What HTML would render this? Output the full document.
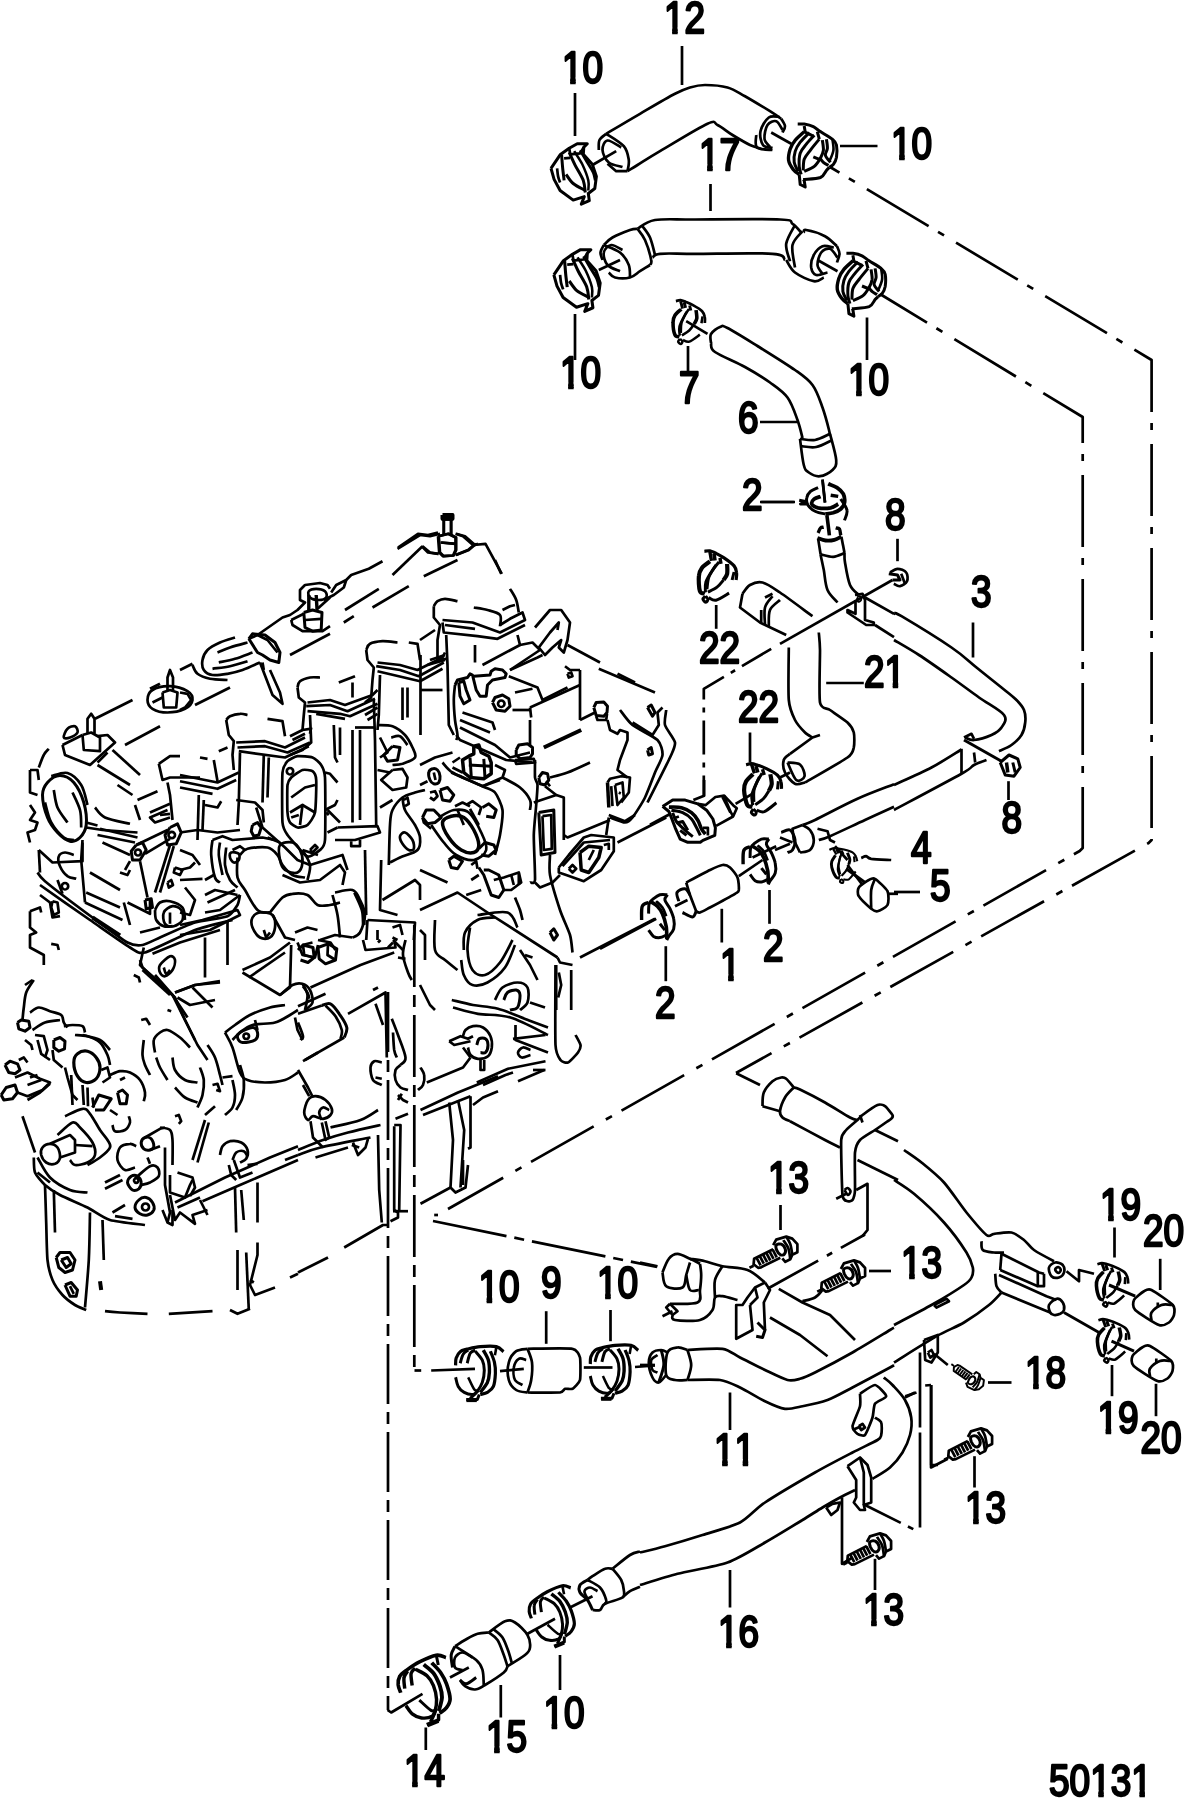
<!DOCTYPE html>
<html><head><meta charset="utf-8"><title>50131</title>
<style>
html,body{margin:0;padding:0;background:#fff}
body{width:1192px;height:1801px;overflow:hidden}
svg{display:block;filter:grayscale(1)}
svg text{font-family:"Liberation Sans",sans-serif;fill:#000;stroke:#000;stroke-width:2.4;stroke-linejoin:round;stroke-linecap:butt;font-kerning:none;font-feature-settings:"kern" 0,"liga" 0}
</style></head><body>
<svg width="1192" height="1801" viewBox="0 0 1192 1801">
<rect width="1192" height="1801" fill="#fff" stroke="none"/>
<defs><clipPath id="k12"><path d="M-5 -44.4 H54.4 V8 H-5 Z M0.9 -5.6 H9.8 V4 H0.9 Z M16.4 -5.6 H25 V4 H16.4 Z" clip-rule="evenodd"/></clipPath><clipPath id="k10"><path d="M-5 -44.4 H54.4 V8 H-5 Z M0.9 -5.6 H9.8 V4 H0.9 Z M16.4 -5.6 H25 V4 H16.4 Z" clip-rule="evenodd"/></clipPath><clipPath id="k17"><path d="M-5 -44.4 H54.4 V8 H-5 Z M0.9 -5.6 H9.8 V4 H0.9 Z M16.4 -5.6 H25 V4 H16.4 Z" clip-rule="evenodd"/></clipPath><clipPath id="k21"><path d="M-5 -44.4 H54.4 V8 H-5 Z M25.6 -5.6 H34.5 V4 H25.6 Z M41 -5.6 H49.7 V4 H41 Z" clip-rule="evenodd"/></clipPath><clipPath id="k1"><path d="M-5 -44.4 H29.7 V8 H-5 Z M0.9 -5.6 H9.8 V4 H0.9 Z M16.4 -5.6 H25 V4 H16.4 Z" clip-rule="evenodd"/></clipPath><clipPath id="k13"><path d="M-5 -44.4 H54.4 V8 H-5 Z M0.9 -5.6 H9.8 V4 H0.9 Z M16.4 -5.6 H25 V4 H16.4 Z" clip-rule="evenodd"/></clipPath><clipPath id="k11"><path d="M-5 -44.4 H54.4 V8 H-5 Z M0.9 -5.6 H9.8 V4 H0.9 Z M16.4 -5.6 H25 V4 H16.4 Z M25.6 -5.6 H34.5 V4 H25.6 Z M41 -5.6 H49.7 V4 H41 Z" clip-rule="evenodd"/></clipPath><clipPath id="k16"><path d="M-5 -44.4 H54.4 V8 H-5 Z M0.9 -5.6 H9.8 V4 H0.9 Z M16.4 -5.6 H25 V4 H16.4 Z" clip-rule="evenodd"/></clipPath><clipPath id="k19"><path d="M-5 -44.4 H54.4 V8 H-5 Z M0.9 -5.6 H9.8 V4 H0.9 Z M16.4 -5.6 H25 V4 H16.4 Z" clip-rule="evenodd"/></clipPath><clipPath id="k18"><path d="M-5 -44.4 H54.4 V8 H-5 Z M0.9 -5.6 H9.8 V4 H0.9 Z M16.4 -5.6 H25 V4 H16.4 Z" clip-rule="evenodd"/></clipPath><clipPath id="k15"><path d="M-5 -44.4 H54.4 V8 H-5 Z M0.9 -5.6 H9.8 V4 H0.9 Z M16.4 -5.6 H25 V4 H16.4 Z" clip-rule="evenodd"/></clipPath><clipPath id="k14"><path d="M-5 -44.4 H54.4 V8 H-5 Z M0.9 -5.6 H9.8 V4 H0.9 Z M16.4 -5.6 H25 V4 H16.4 Z" clip-rule="evenodd"/></clipPath><clipPath id="k50131"><path d="M-5 -44.4 H128.4 V8 H-5 Z M50.2 -5.6 H59.2 V4 H50.2 Z M65.7 -5.6 H74.3 V4 H65.7 Z M99.6 -5.6 H108.6 V4 H99.6 Z M115.1 -5.6 H123.7 V4 H115.1 Z" clip-rule="evenodd"/></clipPath></defs>
<g stroke="#000" stroke-width="2.7" fill="none" stroke-linecap="butt" stroke-linejoin="round">
<text transform="translate(664 33) scale(0.833 1)" font-size="44.4" clip-path="url(#k12)">12</text>
<path d="M682 46 L682 85"/>
<text transform="translate(562 83) scale(0.833 1)" font-size="44.4" clip-path="url(#k10)">10</text>
<path d="M575 93 L575 136"/>
<text transform="translate(699 169.5) scale(0.833 1)" font-size="44.4" clip-path="url(#k17)">17</text>
<path d="M710.5 184 L710.5 211"/>
<text transform="translate(560 388) scale(0.833 1)" font-size="44.4" clip-path="url(#k10)">10</text>
<path d="M575 314 L575 360"/>
<text transform="translate(679 403) scale(0.833 1)" font-size="44.4">7</text>
<path d="M688 346 L688 372"/>
<text transform="translate(738 433) scale(0.833 1)" font-size="44.4">6</text>
<path d="M760 422 L797.5 422"/>
<path d="M606.2 133.8 C611.9 130.4 628.5 120.4 640 113.8 C651.5 107.1 666.7 98.1 675 93.8 C683.3 89.4 685 89 690 87.5 C695 86 698.8 85 705 85 C711.2 85 720.8 85.6 727.5 87.5 C734.2 89.4 737.9 92.3 745 96.2 C752.1 100.2 764 107.5 770 111.2 C776 115 779.4 117.5 781.2 118.8"/>
<path d="M627.5 171.2 C629.2 170.2 632.1 168.3 637.5 165 C642.9 161.7 648.3 158.1 660 151.2 C671.7 144.4 697.9 128.1 707.5 123.8 C717.1 119.4 713.3 123.1 717.5 125 C721.7 126.9 727.1 131.7 732.5 135 C737.9 138.3 745.2 142.7 750 145 C754.8 147.3 759.4 148.1 761.2 148.8"/>
<path d="M606.2 133.8 C605.1 134.8 600.8 137.3 599.5 140 C598.2 142.7 598.9 148.3 598.8 150"/>
<path d="M621.2 147.5 C619 146.3 610.6 140.1 607.5 140.5 C604.4 140.9 602.3 146.3 602.5 150 C602.7 153.7 605.4 159.7 608.8 162.5 C612.1 165.3 620.2 166.2 622.5 167"/>
<path d="M606.2 133.8 C609.2 135.8 620 141.9 623.8 146.2 C627.5 150.6 628.1 155.8 628.8 160 C629.4 164.2 627.7 169.4 627.5 171.2"/>
<path d="M607.5 163.8 L616.2 171.2 L627.5 171.2"/>
<path d="M592.5 165 L616.2 151.2"/>
<g transform="translate(573.7 173.4) rotate(0) scale(1 1)">
<path d="M-22.7 -5 L-13.6 -18.6 L-4.5 -25.2 L3.5 -29.7 L13.6 -29.7 L10.1 -26.2 L9.6 -19.1 L18.6 -9.1 L22.7 3 L21.1 15.1 L14.6 20.1 L15.6 27.2 L7.6 30.7 L10.6 23.2 L-0.5 26.7 L-13.6 17.1 L-19.6 6 L-22.7 -5" stroke-width="3"/>
<path d="M-12.1 -18.6 C-11.9 -16.5 -11.5 -10.3 -11.1 -6 C-10.7 -1.8 -9.8 4.9 -9.6 7" stroke-width="3"/>
<path d="M-16.6 -5 C-16.4 -3.7 -16.1 0.7 -15.6 3 C-15.1 5.4 -13.9 8.1 -13.6 9.1"/>
<path d="M-4.5 -21.1 C-3.5 -19 -0.8 -12.8 1.5 -8.1 C3.9 -3.4 7.9 2.5 9.6 7 C11.2 11.6 11.2 17.1 11.6 19.1" stroke-width="3"/>
<path d="M0.5 -22.2 C1.8 -20 6.2 -13.9 8.6 -9.1 C10.9 -4.2 13.6 2.7 14.6 7 C15.6 11.4 14.6 15.4 14.6 17.1" stroke-width="2.5"/>
<path d="M6.5 -23.2 C7.7 -21.1 11.4 -14.8 13.6 -11.1 C15.8 -7.4 18.3 -4 19.6 -1 C21 2 21.3 5.7 21.7 7" stroke-width="3"/>
<path d="M-7.6 1 C-6.4 2.5 -3.7 7.4 -0.5 10.1 C2.7 12.8 9.6 15.9 11.6 17.1" stroke-width="3"/>
<path d="M-4.5 -25.2 L-3.5 -19.1 L6.5 -20.1 L10.1 -26.2"/>
<path d="M-9.6 -15.1 L-3.5 -15.6"/>
</g>
<path d="M781.2 118.8 C781.9 120 784.8 124 785 126.2 C785.2 128.5 782.9 131.5 782.5 132.5"/>
<path d="M780 117 C778.1 117.1 772 115.1 768.8 117.5 C765.5 119.9 761.5 126.7 760.5 131.2 C759.5 135.8 761 142.2 763 145 C765 147.8 770.9 147.5 772.5 148"/>
<path d="M756.2 135 C756.4 137.1 754.3 145 757 147.5 C759.7 150 769.9 149.6 772.5 150"/>
<path d="M782.5 130 C781.5 128.5 778.8 122.1 776.2 121.2 C773.8 120.4 769.5 122.1 767.5 125 C765.5 127.9 764.1 135.1 764.5 138.8 C764.9 142.4 769.1 145.6 770 147"/>
<path d="M637.5 228.8 C640.4 227.3 645.4 221.5 655 220 C664.6 218.5 674.2 219.6 695 219.5 C715.8 219.4 763.8 218.8 780 219.5 C796.2 220.2 789 221.6 792.5 223.8 C796 225.9 799.8 231 801.2 232.5"/>
<path d="M652.5 257.5 C653.8 256.9 652.9 254.4 660 253.8 C667.1 253.1 676.2 253.8 695 253.8 C713.8 253.8 757.5 252.7 772.5 253.8 C787.5 254.8 782.9 259 785 260"/>
<path d="M637.5 228.8 C636.2 229 634.2 228.5 630 230 C625.8 231.5 616.9 235 612.5 237.5 C608.1 240 605.2 243.8 603.8 245"/>
<path d="M637.5 228.8 C638.8 230.6 642.7 234.8 645 240 C647.3 245.2 650.4 255.8 651.2 260 C652.1 264.2 650.2 264.2 650 265"/>
<path d="M642.5 226.2 C643.8 228.1 647.9 232.7 650 237.5 C652.1 242.3 654.2 252.1 655 255"/>
<path d="M650 265 C648.3 266 643.3 269.2 640 271.2 C636.7 273.3 634.2 276.5 630 277.5 C625.8 278.5 618.5 278.3 615 277.5 C611.5 276.7 609.8 273.3 608.8 272.5"/>
<path d="M603.8 245 C603.2 246.2 600.7 250 600.5 252.5 C600.3 255 602.2 258.8 602.5 260"/>
<path d="M622.5 250 C620.6 249.2 614.4 244.6 611.2 245 C608.1 245.4 604.4 249.2 603.8 252.5 C603.1 255.8 604.8 261.9 607.5 265 C610.2 268.1 617.9 270.2 620 271.2"/>
<path d="M603.8 245 C606.5 246.2 615.8 249.2 620 252.5 C624.2 255.8 627.1 260.8 628.8 265 C630.4 269.2 629.8 275.4 630 277.5"/>
<path d="M598.8 270 L620 260"/>
<g transform="translate(577 280) rotate(0) scale(1.020 1.020)">
<path d="M-22.7 -5 L-13.6 -18.6 L-4.5 -25.2 L3.5 -29.7 L13.6 -29.7 L10.1 -26.2 L9.6 -19.1 L18.6 -9.1 L22.7 3 L21.1 15.1 L14.6 20.1 L15.6 27.2 L7.6 30.7 L10.6 23.2 L-0.5 26.7 L-13.6 17.1 L-19.6 6 L-22.7 -5" stroke-width="3"/>
<path d="M-12.1 -18.6 C-11.9 -16.5 -11.5 -10.3 -11.1 -6 C-10.7 -1.8 -9.8 4.9 -9.6 7" stroke-width="3"/>
<path d="M-16.6 -5 C-16.4 -3.7 -16.1 0.7 -15.6 3 C-15.1 5.4 -13.9 8.1 -13.6 9.1"/>
<path d="M-4.5 -21.1 C-3.5 -19 -0.8 -12.8 1.5 -8.1 C3.9 -3.4 7.9 2.5 9.6 7 C11.2 11.6 11.2 17.1 11.6 19.1" stroke-width="3"/>
<path d="M0.5 -22.2 C1.8 -20 6.2 -13.9 8.6 -9.1 C10.9 -4.2 13.6 2.7 14.6 7 C15.6 11.4 14.6 15.4 14.6 17.1" stroke-width="2.5"/>
<path d="M6.5 -23.2 C7.7 -21.1 11.4 -14.8 13.6 -11.1 C15.8 -7.4 18.3 -4 19.6 -1 C21 2 21.3 5.7 21.7 7" stroke-width="3"/>
<path d="M-7.6 1 C-6.4 2.5 -3.7 7.4 -0.5 10.1 C2.7 12.8 9.6 15.9 11.6 17.1" stroke-width="3"/>
<path d="M-4.5 -25.2 L-3.5 -19.1 L6.5 -20.1 L10.1 -26.2"/>
<path d="M-9.6 -15.1 L-3.5 -15.6"/>
</g>
<g transform="translate(688.8 321) rotate(-5) scale(0.850 0.850)">
<path d="M-13.1 -24.7 C-12.2 -24.8 -9.5 -25.5 -7.6 -25.2 C-5.6 -24.8 -3.9 -23.8 -1.5 -22.7 C0.8 -21.5 3.5 -20.2 6.5 -18.1 C9.6 -16 14.5 -12.6 16.6 -10.1 C18.7 -7.6 18.8 -5.4 19.1 -3 C19.5 -0.7 18.7 2.9 18.6 4" stroke-width="3.2"/>
<path d="M16.6 -4 L14.6 4" stroke-width="3"/>
<path d="M-7.6 -14.6 C-8.9 -13.5 -13.8 -10.5 -15.6 -8.1 C-17.5 -5.6 -18.3 -3.9 -18.6 0 C-19 3.9 -18.6 12.2 -17.6 15.1 C-16.6 18 -13.4 17.2 -12.6 17.6" stroke-width="4.2"/>
<path d="M1.5 -14.1 C0.3 -12.6 -3.4 -8.4 -5.5 -5 C-7.7 -1.7 -10.5 2.5 -11.6 6 C-12.7 9.6 -12 14.4 -12.1 16.1" stroke-width="3"/>
<path d="M-1.5 -11.1 C-2.7 -9.1 -7 -3 -8.6 1 C-10.1 5 -10.2 11.1 -10.6 13.1" stroke-width="3"/>
<path d="M9.6 -12.1 C9.6 -10.4 10.2 -4.7 9.6 -2 C9 0.7 6.6 3 6 4" stroke-width="4.2"/>
<path d="M6 4 C5 5.2 2.1 9.1 -0.5 11.1 C-3.1 13.1 -8.1 15.3 -9.6 16.1" stroke-width="3"/>
<path d="M-8.6 21.7 C-7.4 22.1 -4.9 24.9 -1.5 24.2 C1.8 23.4 9.4 18.3 11.6 17.1" stroke-width="3"/>
<path d="M-12.1 20.1 C-12.5 20.6 -14.7 22.2 -14.6 23.2 C-14.5 24.2 -12.4 26.2 -11.6 26.2 C-10.7 26.2 -9.5 24.2 -9.6 23.2 C-9.7 22.2 -11.7 20.6 -12.1 20.1" stroke-width="3"/>
<path d="M-7.6 -24.2 L-6 -15.1" stroke-width="3.4"/>
<path d="M2.5 -18.1 L3.5 -12.1" stroke-width="3.4"/>
<path d="M-3.5 -22.2 L-2.5 -15.6" stroke-width="3.6"/>
</g>
<path d="M686.2 321.2 L707.5 333.8"/>
<path d="M711 343 C711 341.5 709.5 336.7 711 334 C712.5 331.3 717.2 328 720 327 C722.8 326 721.2 324.8 727.5 328 C733.8 331.2 746.2 339 757.5 346 C768.8 353 785.8 363.5 795 370 C804.2 376.5 807.9 378.8 812.5 385 C817.1 391.2 819.8 400 822.5 407.5 C825.2 415 827.8 425.2 829 430 C830.2 434.8 829.8 435 830 436"/>
<path d="M711 343 C711.7 344.5 709.3 348 715 352 C720.7 356 735.8 361.9 745 367 C754.2 372.1 762.9 377.4 770 382.5 C777.1 387.6 782.9 391.2 787.5 397.5 C792.1 403.8 795 413.2 797.5 420 C800 426.8 801.7 435 802.5 438"/>
<path d="M771.2 132.5 L791.2 143.8"/>
<g transform="translate(812.8 155.3) rotate(0) scale(1 1)">
<path d="M-15.1 -31.2 C-14.3 -31.2 -10.4 -31.5 -8.6 -31.2 C-6.7 -30.9 -1.4 -29.6 0.5 -28.7 C2.4 -27.8 5.3 -25.1 7.6 -23.7 C9.8 -22.2 17.8 -17.7 19.6 -16.1 C21.5 -14.5 23.2 -12.2 23.7 -10.1 C24.1 -8 24 -0.2 23.7 2 C23.3 4.2 21.5 7.9 20.6 9.1 C19.8 10.2 17.1 11.7 16.6 12.1" stroke-width="3"/>
<path d="M-8.6 -23.7 C-10.1 -22.2 -15.3 -18 -17.6 -15.1 C-20 -12.2 -21.6 -9.4 -22.7 -6 C-23.7 -2.7 -24.7 1.7 -24.2 5 C-23.7 8.4 -21.4 11.7 -19.6 14.1 C-17.9 16.4 -14.6 18.3 -13.6 19.1" stroke-width="3.4"/>
<path d="M-3.5 -22.7 C-5 -21.1 -10.2 -16.2 -12.6 -13.1 C-14.9 -10 -16.6 -7.4 -17.6 -4 C-18.6 -0.7 -19.1 3.7 -18.6 7 C-18.1 10.4 -15.3 14.6 -14.6 16.1" stroke-width="3"/>
<path d="M1.5 -20.1 C0.2 -18.6 -4.2 -14.1 -6.5 -11.1 C-8.9 -8.1 -11.4 -5.7 -12.6 -2 C-13.8 1.7 -13.8 7.6 -13.6 11.1 C-13.4 14.6 -11.9 17.8 -11.6 19.1" stroke-width="3"/>
<path d="M6.5 -16.1 C5 -14.3 0 -8.4 -2.5 -5 C-5 -1.7 -7.4 0.7 -8.6 4 C-9.7 7.4 -9.4 13.3 -9.6 15.1" stroke-width="3"/>
<path d="M-8.6 -29.2 L-7.6 -23.2 L0.5 -19.1" stroke-width="3"/>
<path d="M4.5 -23.7 L6.5 -16.1" stroke-width="3"/>
<path d="M9.6 -15.1 C9.7 -13.4 10.9 -8.1 10.6 -5 C10.2 -2 9.1 0.3 7.6 3 C6 5.7 4.2 8.9 1.5 11.1 C-1.2 13.3 -6.9 15.3 -8.6 16.1" stroke-width="3"/>
<path d="M13.6 -16.1 C13.8 -14.6 14.8 -9.7 14.6 -7 C14.4 -4.4 12.1 -2.3 12.6 0 C13.1 2.3 16.8 5.9 17.6 7" stroke-width="3"/>
<path d="M6.5 2 C7.2 2.9 9.1 5.7 10.6 7 C12.1 8.4 14.8 9.6 15.6 10.1" stroke-width="3"/>
<path d="M0.5 1.5 L6.5 4" stroke-width="3"/>
<path d="M-13.6 19.1 L-12.6 29.2 L-7.6 31.7 L-8.6 25.2 L-9.6 24.2" stroke-width="3"/>
<path d="M-9.6 24.2 C-6.7 23.8 3.7 23.7 7.6 22.2 C11.4 20.6 12.1 16.8 13.6 15.1 C15.1 13.4 16.1 12.6 16.6 12.1" stroke-width="3"/>
<path d="M19.6 -16.1 C19.8 -14.3 21.1 -8.7 20.6 -5 C20.1 -1.3 17.3 4.2 16.6 6" stroke-width="2.6"/>
</g>
<path d="M840 146 L877.5 146"/>
<text transform="translate(891 159) scale(0.833 1)" font-size="44.4" clip-path="url(#k10)">10</text>
<path d="M803.8 232.5 C804.2 232.1 802.7 229.4 806.2 230 C809.8 230.6 819.9 233.5 825 236.2 C830.1 239 835 244.6 837 246.2"/>
<path d="M837 246.2 C837.4 247.5 839.5 251 839.5 253.8 C839.5 256.5 837.4 261 837 262.5"/>
<path d="M833.8 247.5 C831.9 247.3 825.8 245 822.5 246.2 C819.2 247.5 815.6 251.5 813.8 255 C811.9 258.5 810.8 264.2 811.2 267.5 C811.7 270.8 813.5 274.2 816.2 275 C819 275.8 825.6 272.9 827.5 272.5"/>
<path d="M786.2 260 C787.7 262.1 790.4 269 795 272.5 C799.6 276 809 280.4 813.8 281.2 C818.5 282.1 822.1 278.1 823.8 277.5"/>
<path d="M795 225 C793.5 228.1 787.1 237.7 786.2 243.8 C785.4 249.8 789.4 258.3 790 261.2"/>
<path d="M802.5 231.2 C800.8 233.5 793.8 239 792.5 245 C791.2 251 794.6 263.8 795 267.5"/>
<path d="M837.5 257.5 C836.2 256 832.7 249.6 830 248.8 C827.3 247.9 823.3 249.8 821.2 252.5 C819.2 255.2 817.3 261.5 817.5 265 C817.7 268.5 821.7 272.3 822.5 273.8"/>
<path d="M817.5 260 L837.5 271.2"/>
<g transform="translate(861.5 284.5) rotate(0) scale(1 1)">
<path d="M-15.1 -31.2 C-14.3 -31.2 -10.4 -31.5 -8.6 -31.2 C-6.7 -30.9 -1.4 -29.6 0.5 -28.7 C2.4 -27.8 5.3 -25.1 7.6 -23.7 C9.8 -22.2 17.8 -17.7 19.6 -16.1 C21.5 -14.5 23.2 -12.2 23.7 -10.1 C24.1 -8 24 -0.2 23.7 2 C23.3 4.2 21.5 7.9 20.6 9.1 C19.8 10.2 17.1 11.7 16.6 12.1" stroke-width="3"/>
<path d="M-8.6 -23.7 C-10.1 -22.2 -15.3 -18 -17.6 -15.1 C-20 -12.2 -21.6 -9.4 -22.7 -6 C-23.7 -2.7 -24.7 1.7 -24.2 5 C-23.7 8.4 -21.4 11.7 -19.6 14.1 C-17.9 16.4 -14.6 18.3 -13.6 19.1" stroke-width="3.4"/>
<path d="M-3.5 -22.7 C-5 -21.1 -10.2 -16.2 -12.6 -13.1 C-14.9 -10 -16.6 -7.4 -17.6 -4 C-18.6 -0.7 -19.1 3.7 -18.6 7 C-18.1 10.4 -15.3 14.6 -14.6 16.1" stroke-width="3"/>
<path d="M1.5 -20.1 C0.2 -18.6 -4.2 -14.1 -6.5 -11.1 C-8.9 -8.1 -11.4 -5.7 -12.6 -2 C-13.8 1.7 -13.8 7.6 -13.6 11.1 C-13.4 14.6 -11.9 17.8 -11.6 19.1" stroke-width="3"/>
<path d="M6.5 -16.1 C5 -14.3 0 -8.4 -2.5 -5 C-5 -1.7 -7.4 0.7 -8.6 4 C-9.7 7.4 -9.4 13.3 -9.6 15.1" stroke-width="3"/>
<path d="M-8.6 -29.2 L-7.6 -23.2 L0.5 -19.1" stroke-width="3"/>
<path d="M4.5 -23.7 L6.5 -16.1" stroke-width="3"/>
<path d="M9.6 -15.1 C9.7 -13.4 10.9 -8.1 10.6 -5 C10.2 -2 9.1 0.3 7.6 3 C6 5.7 4.2 8.9 1.5 11.1 C-1.2 13.3 -6.9 15.3 -8.6 16.1" stroke-width="3"/>
<path d="M13.6 -16.1 C13.8 -14.6 14.8 -9.7 14.6 -7 C14.4 -4.4 12.1 -2.3 12.6 0 C13.1 2.3 16.8 5.9 17.6 7" stroke-width="3"/>
<path d="M6.5 2 C7.2 2.9 9.1 5.7 10.6 7 C12.1 8.4 14.8 9.6 15.6 10.1" stroke-width="3"/>
<path d="M0.5 1.5 L6.5 4" stroke-width="3"/>
<path d="M-13.6 19.1 L-12.6 29.2 L-7.6 31.7 L-8.6 25.2 L-9.6 24.2" stroke-width="3"/>
<path d="M-9.6 24.2 C-6.7 23.8 3.7 23.7 7.6 22.2 C11.4 20.6 12.1 16.8 13.6 15.1 C15.1 13.4 16.1 12.6 16.6 12.1" stroke-width="3"/>
<path d="M19.6 -16.1 C19.8 -14.3 21.1 -8.7 20.6 -5 C20.1 -1.3 17.3 4.2 16.6 6" stroke-width="2.6"/>
</g>
<path d="M867 317.5 L867 360"/>
<text transform="translate(848 395) scale(0.833 1)" font-size="44.4" clip-path="url(#k10)">10</text>
<path d="M800 438.8 C802.5 439 810 440.8 815 440 C820 439.2 827.5 434.8 830 433.8"/>
<path d="M801.2 446.2 C803.8 446.4 811.2 448 816.2 447 C821.2 446 828.8 441.6 831.2 440.5"/>
<path d="M800 438.8 C800.6 443.1 802.3 459.4 803.8 465 C805.2 470.6 806 470.6 808.8 472.5 C811.5 474.4 816 476.7 820 476.2 C824 475.8 829.8 472.7 832.5 470 C835.2 467.3 836.7 466 836.2 460 C835.8 454 831 438.1 830 433.8"/>
<text transform="translate(742 510) scale(0.833 1)" font-size="44.4">2</text>
<path d="M760 502 L795 502"/>
<path d="M822.5 480 L825 502.5"/>
<path d="M761.2 502 L793.8 502"/>
<path d="M818.1 487.6 C816.8 488.2 812.4 489.7 810.5 491.4 C808.6 493.1 807.2 495.4 806.8 497.7 C806.3 500 806.5 502.9 808 505.2 C809.5 507.5 812.6 510.1 815.6 511.5 C818.5 513 824 513.6 825.6 514" stroke-width="3"/>
<path d="M820.6 496.4 C819.6 496.8 815.8 497.7 814.3 498.9 C812.8 500.2 811.2 502.5 811.8 504 C812.4 505.4 814.9 507.1 818.1 507.8 C821.2 508.4 827.3 508.4 830.7 507.8 C834 507.1 837 504.6 838.2 504" stroke-width="3.8"/>
<path d="M828.2 483.8 C829.6 484.5 834.4 485.9 837 487.6 C839.5 489.3 842 491.4 843.3 493.9 C844.5 496.4 844.9 500.2 844.5 502.7 C844.1 505.2 842.6 507.3 840.7 509 C838.8 510.7 835.7 511.9 833.2 512.8 C830.7 513.6 826.9 513.8 825.6 514" stroke-width="3.8"/>
<path d="M830.7 495.2 L838.2 496.4" stroke-width="3.4"/>
<path d="M840.7 498.9 C841.8 500.8 846.4 506.7 847 510.3 C847.7 513.8 844.9 518.7 844.5 520.3" stroke-width="3"/>
<path d="M799.2 500.2 L805.5 501.5 L800.5 504 L806.8 504" stroke-width="3"/>
<path d="M822.5 479.4 L825 502.7"/>
<path d="M826.9 515.3 L829.4 535.4" stroke-width="3.6"/>
<path d="M823.7 527.3 C823.2 527.4 821.5 526.9 820.6 527.9 C819.7 528.8 818.5 532.1 818.1 532.9" stroke-width="3.4"/>
<path d="M835.7 527.9 C836.3 528.1 838.6 527.9 839.5 529.1 C840.3 530.4 840.5 534.4 840.7 535.4" stroke-width="3.4"/>
<path d="M817.5 538 C818.8 538.4 822.8 540.2 825.6 540.5 C828.5 540.8 831.8 540.5 834.4 539.8 C837.1 539.2 840.2 537.2 841.4 536.7" stroke-width="3.8"/>
<path d="M818.1 538.6 L820.6 554.3"/>
<path d="M820.6 554.3 C822.7 554.7 829.2 557 833.2 556.8 C837.2 556.6 842.6 553.7 844.5 553.1"/>
<path d="M844.5 553.1 L841.4 536.7"/>
<path d="M820.5 554.2 C821 556.9 822.6 564 823.8 570 C824.9 576 825.2 584.6 827.5 590 C829.8 595.4 835.8 600.4 837.5 602.5"/>
<path d="M844.5 553 C844.6 554.6 844.1 557.2 845 562.5 C845.9 567.8 847.7 579.6 850 585 C852.3 590.4 857.3 593.3 858.8 595"/>
<path d="M897.5 538.8 L897.5 561.2"/>
<text transform="translate(885 529.5) scale(0.833 1)" font-size="44.4">8</text>
<path d="M890 572.5 C891.2 571.9 894.8 568.8 897.5 568.8 C900.2 568.8 904.7 570.4 906.2 572.5 C907.8 574.6 908 579 907 581.2 C906 583.5 902.2 585.8 900 586.2 C897.8 586.7 894.8 584.2 893.8 583.8"/>
<path d="M888.8 573.8 L897.5 575 L900 580 L892.5 580" stroke-width="3"/>
<path d="M901.2 573.8 L905 583.8"/>
<path d="M892.5 580 L780 643.8"/>
<path d="M771.2 648.8 L703.8 688.8 L703.8 796.2" stroke-dasharray="34 8 5 8"/>
<path d="M855 595 L862.5 593.8 L865 600 L865 620 L873.8 622.5 L873.8 625 L866.2 625 L862.5 622.5 L847.5 612.5 L847.5 610 L855.5 613.8 L855.5 600"/>
<path d="M857 597.5 C857.5 597.3 859.3 595.8 860 596.2 C860.7 596.7 861.6 599.1 861.2 600 C860.9 600.9 858.7 602.2 858 601.8 C857.3 601.3 857.2 598.2 857 597.5" stroke-width="1.8"/>
<path d="M865 597.5 L894 613.9"/>
<path d="M875 625 L894 637.2"/>
<g transform="translate(717.5 576) rotate(0) scale(1 1)">
<path d="M-13.1 -24.7 C-12.2 -24.8 -9.5 -25.5 -7.6 -25.2 C-5.6 -24.8 -3.9 -23.8 -1.5 -22.7 C0.8 -21.5 3.5 -20.2 6.5 -18.1 C9.6 -16 14.5 -12.6 16.6 -10.1 C18.7 -7.6 18.8 -5.4 19.1 -3 C19.5 -0.7 18.7 2.9 18.6 4" stroke-width="3.2"/>
<path d="M16.6 -4 L14.6 4" stroke-width="3"/>
<path d="M-7.6 -14.6 C-8.9 -13.5 -13.8 -10.5 -15.6 -8.1 C-17.5 -5.6 -18.3 -3.9 -18.6 0 C-19 3.9 -18.6 12.2 -17.6 15.1 C-16.6 18 -13.4 17.2 -12.6 17.6" stroke-width="4.2"/>
<path d="M1.5 -14.1 C0.3 -12.6 -3.4 -8.4 -5.5 -5 C-7.7 -1.7 -10.5 2.5 -11.6 6 C-12.7 9.6 -12 14.4 -12.1 16.1" stroke-width="3"/>
<path d="M-1.5 -11.1 C-2.7 -9.1 -7 -3 -8.6 1 C-10.1 5 -10.2 11.1 -10.6 13.1" stroke-width="3"/>
<path d="M9.6 -12.1 C9.6 -10.4 10.2 -4.7 9.6 -2 C9 0.7 6.6 3 6 4" stroke-width="4.2"/>
<path d="M6 4 C5 5.2 2.1 9.1 -0.5 11.1 C-3.1 13.1 -8.1 15.3 -9.6 16.1" stroke-width="3"/>
<path d="M-8.6 21.7 C-7.4 22.1 -4.9 24.9 -1.5 24.2 C1.8 23.4 9.4 18.3 11.6 17.1" stroke-width="3"/>
<path d="M-12.1 20.1 C-12.5 20.6 -14.7 22.2 -14.6 23.2 C-14.5 24.2 -12.4 26.2 -11.6 26.2 C-10.7 26.2 -9.5 24.2 -9.6 23.2 C-9.7 22.2 -11.7 20.6 -12.1 20.1" stroke-width="3"/>
<path d="M-7.6 -24.2 L-6 -15.1" stroke-width="3.4"/>
<path d="M2.5 -18.1 L3.5 -12.1" stroke-width="3.4"/>
<path d="M-3.5 -22.2 L-2.5 -15.6" stroke-width="3.6"/>
</g>
<path d="M716.2 605 L716.2 628.8"/>
<text transform="translate(699 663) scale(0.833 1)" font-size="44.4">22</text>
<path d="M742.5 593.8 C743.8 592.3 746.7 586.9 750 585 C753.3 583.1 757.5 581.2 762.5 582.5 C767.5 583.8 771.7 586.9 780 592.5 C788.3 598.1 807.1 612.3 812.5 616.2"/>
<path d="M742.5 593.8 L740 607.5 L760 622.5 L786.2 635"/>
<path d="M772.5 596.2 C771.2 598.1 766.2 602.7 765 607.5 C763.8 612.3 765 622.1 765 625"/>
<path d="M780 600 C778.3 601.7 771.9 605.6 770 610 C768.1 614.4 769 623.5 768.8 626.2"/>
<path d="M761.2 610 L761.2 622.5"/>
<path d="M765 597.5 L772.5 593.8"/>
<path d="M788.8 647.5 C788.8 653.6 788 691.5 788.8 700 C789.5 708.5 793.1 716.2 795 720 C796.9 723.8 803 730.5 805 732.5 C807 734.5 811.6 736.9 812.5 737.5"/>
<path d="M818.8 632.5 C818.9 634.5 819.9 641.8 820 650 C820.1 658.2 818.8 695.5 820 702.5 C821.2 709.5 826.8 707.7 830 710 C833.2 712.3 844.7 719.9 847.5 722.5 C850.3 725.1 853 729.6 853.8 732.5 C854.5 735.4 854.5 744.6 853.8 747.5 C853 750.4 853.2 753.4 847.5 757.5 C841.8 761.6 810 779.6 805 782.5"/>
<path d="M820 735 L812.5 737.5 L790 753.8"/>
<path d="M790 753.8 C789 754.8 784.6 756.9 783.8 760 C782.9 763.1 783.1 768.5 785 772.5 C786.9 776.5 791.7 782.1 795 783.8 C798.3 785.4 803.3 782.7 805 782.5"/>
<path d="M787.5 762.5 C789.6 762.8 797.2 762.2 800 764.5 C802.8 766.8 805.1 773.7 804.5 776.2 C803.9 778.8 799.1 782.3 796.2 780 C793.4 777.7 789 765.4 787.5 762.5"/>
<path d="M826.2 683 L863.8 683"/>
<text transform="translate(864 686.5) scale(0.833 1)" font-size="44.4" clip-path="url(#k21)">21</text>
<text transform="translate(738 721.5) scale(0.833 1)" font-size="44.4">22</text>
<path d="M750 732.5 L750 762.5"/>
<g transform="translate(762.5 787.5) rotate(-8) scale(1 1)">
<path d="M-13.1 -24.7 C-12.2 -24.8 -9.5 -25.5 -7.6 -25.2 C-5.6 -24.8 -3.9 -23.8 -1.5 -22.7 C0.8 -21.5 3.5 -20.2 6.5 -18.1 C9.6 -16 14.5 -12.6 16.6 -10.1 C18.7 -7.6 18.8 -5.4 19.1 -3 C19.5 -0.7 18.7 2.9 18.6 4" stroke-width="3.2"/>
<path d="M16.6 -4 L14.6 4" stroke-width="3"/>
<path d="M-7.6 -14.6 C-8.9 -13.5 -13.8 -10.5 -15.6 -8.1 C-17.5 -5.6 -18.3 -3.9 -18.6 0 C-19 3.9 -18.6 12.2 -17.6 15.1 C-16.6 18 -13.4 17.2 -12.6 17.6" stroke-width="4.2"/>
<path d="M1.5 -14.1 C0.3 -12.6 -3.4 -8.4 -5.5 -5 C-7.7 -1.7 -10.5 2.5 -11.6 6 C-12.7 9.6 -12 14.4 -12.1 16.1" stroke-width="3"/>
<path d="M-1.5 -11.1 C-2.7 -9.1 -7 -3 -8.6 1 C-10.1 5 -10.2 11.1 -10.6 13.1" stroke-width="3"/>
<path d="M9.6 -12.1 C9.6 -10.4 10.2 -4.7 9.6 -2 C9 0.7 6.6 3 6 4" stroke-width="4.2"/>
<path d="M6 4 C5 5.2 2.1 9.1 -0.5 11.1 C-3.1 13.1 -8.1 15.3 -9.6 16.1" stroke-width="3"/>
<path d="M-8.6 21.7 C-7.4 22.1 -4.9 24.9 -1.5 24.2 C1.8 23.4 9.4 18.3 11.6 17.1" stroke-width="3"/>
<path d="M-12.1 20.1 C-12.5 20.6 -14.7 22.2 -14.6 23.2 C-14.5 24.2 -12.4 26.2 -11.6 26.2 C-10.7 26.2 -9.5 24.2 -9.6 23.2 C-9.7 22.2 -11.7 20.6 -12.1 20.1" stroke-width="3"/>
<path d="M-7.6 -24.2 L-6 -15.1" stroke-width="3.4"/>
<path d="M2.5 -18.1 L3.5 -12.1" stroke-width="3.4"/>
<path d="M-3.5 -22.2 L-2.5 -15.6" stroke-width="3.6"/>
</g>
<path d="M780 777.5 L790 772.5"/>
<path d="M662.6 806.4 L672.7 800.1 L685.2 800.1 L697.8 803.9 L706.6 810.2 L712.9 819 L715.4 827.8 L714.8 835.4 L702.9 840.4 L700.3 842.3 L687.8 842.3 L680.2 839.1 L675.2 827.8 L671.4 817.8 L668.9 811.5 L662.6 806.4" stroke-width="3"/>
<path d="M668.9 807.1 C671 807.2 677.7 806.7 681.5 807.7 C685.2 808.6 688.8 810.6 691.5 812.7 C694.3 814.8 696.1 817.5 697.8 820.3 C699.5 823 700.3 826.8 701.6 829.1 C702.9 831.4 704.7 833.3 705.4 834.1" stroke-width="3.6"/>
<path d="M671.4 810.2 C673.3 810.6 679.4 811.2 682.7 812.7 C686.1 814.2 689.2 816.5 691.5 819 C693.8 821.5 695.1 825.1 696.6 827.8 C698 830.5 699.7 834.1 700.3 835.4" stroke-width="3"/>
<path d="M672.7 812.7 C673.3 814.2 674.3 818.6 676.4 821.5 C678.5 824.5 682.5 827.8 685.2 830.3 C688 832.9 691.5 835.6 692.8 836.6" stroke-width="3"/>
<path d="M677.7 822.8 L682.7 821.5 L687.8 830.3" stroke-width="3"/>
<path d="M675.2 817.8 L678.9 816.5"/>
<path d="M680.2 830.3 L686.5 835.4" stroke-width="3"/>
<path d="M702.9 827.8 L707.9 827.8 L707.9 835.4"/>
<path d="M697.8 803.9 L705.4 805.2 L715.4 797 L724.2 795.7 L733.1 805.2 L736.8 808.3 L733.1 816.5 L716.1 825.9"/>
<path d="M724.2 795.7 L726.8 802.7 L730.5 811.5 L733.1 816.5"/>
<path d="M722.4 797 L730.5 812.7"/>
<path d="M704.1 780 L704.1 795.7 L693.4 800.1"/>
<path d="M650 824.7 L670.1 814"/>
<path d="M735.6 803.9 L754.4 792.6"/>
<path d="M894 784.2 C887.9 786.7 870.7 792.8 857.5 798.8 C844.3 804.7 824.2 815.6 815 820 C805.8 824.4 804.6 824.2 802.5 825"/>
<path d="M894 806.8 C889.2 809 875.7 815.1 865 820 C854.3 824.9 837.7 832.9 830 836.2 C822.3 839.6 820.6 839.4 818.8 840"/>
<path d="M802.5 825 C803.8 825.8 808.1 827.5 810 830 C811.9 832.5 813.8 836.7 813.8 840 C813.8 843.3 812.3 847.9 810 850 C807.7 852.1 801.7 852.1 800 852.5"/>
<path d="M802.5 825 L792.5 828.8 L793.8 840 L800 852.5"/>
<path d="M781.2 832.5 C782.7 832.1 787.7 828.8 790 830 C792.3 831.2 794.6 836.7 795 840 C795.4 843.3 793.8 847.9 792.5 850 C791.2 852.1 788.3 852.1 787.5 852.5" stroke-width="3"/>
<path d="M780 837.5 L792.5 842.5"/>
<path d="M817.5 828.8 L827.5 831.2 L830 840 L835 842.5"/>
<path d="M776.2 846.2 L752.5 857.5"/>
<g transform="translate(759.5 861.8) rotate(0) scale(1 1)">
<path d="M-16.4 2.5 C-16.3 0.2 -16.9 -8.4 -15.7 -11.3 C-14.6 -14.3 -10.5 -14.5 -9.4 -15.1" stroke-width="3.4"/>
<path d="M-9.4 -3.8 C-9.3 -5.5 -9.6 -11.3 -8.8 -13.8 C-8 -16.4 -6.2 -17.4 -4.4 -18.9 C-2.6 -20.3 -0.4 -22 1.9 -22.7 C4.2 -23.3 8.2 -22.7 9.4 -22.7" stroke-width="3"/>
<path d="M-8.2 -16.4 C-6.9 -15.5 -2.7 -13.4 -0.6 -11.3 C1.5 -9.2 2.9 -7.1 4.4 -3.8 C5.9 -0.4 7.4 4.6 8.2 8.8 C8.9 13 8.7 19.3 8.8 21.4" stroke-width="3.6"/>
<path d="M9.4 -22.7 C9 -21.8 6.5 -19.9 6.9 -17.6 C7.3 -15.3 10.5 -12 12 -8.8 C13.4 -5.7 15.1 -2.1 15.7 1.3 C16.4 4.6 16.6 8.4 15.7 11.3 C14.9 14.3 11.8 17 10.7 18.9 C9.5 20.8 9.1 22 8.8 22.7" stroke-width="3"/>
<path d="M-1.9 -16.4 C-0.8 -15.3 2.7 -12.6 4.4 -10.1 C6.1 -7.6 7.6 -2.7 8.2 -1.3"/>
<path d="M-9.4 12.6 C-8.6 13.6 -6.3 17.6 -4.4 18.9 C-2.5 20.1 -0.2 20.3 1.9 20.1 C4 19.9 7.1 18 8.2 17.6" stroke-width="3"/>
<path d="M1.9 6.3 L6.9 12.6" stroke-width="3"/>
</g>
<g transform="translate(844 863) rotate(-20) scale(0.700 0.700)">
<path d="M-13.1 -24.7 C-12.2 -24.8 -9.5 -25.5 -7.6 -25.2 C-5.6 -24.8 -3.9 -23.8 -1.5 -22.7 C0.8 -21.5 3.5 -20.2 6.5 -18.1 C9.6 -16 14.5 -12.6 16.6 -10.1 C18.7 -7.6 18.8 -5.4 19.1 -3 C19.5 -0.7 18.7 2.9 18.6 4" stroke-width="3.2"/>
<path d="M16.6 -4 L14.6 4" stroke-width="3"/>
<path d="M-7.6 -14.6 C-8.9 -13.5 -13.8 -10.5 -15.6 -8.1 C-17.5 -5.6 -18.3 -3.9 -18.6 0 C-19 3.9 -18.6 12.2 -17.6 15.1 C-16.6 18 -13.4 17.2 -12.6 17.6" stroke-width="4.2"/>
<path d="M1.5 -14.1 C0.3 -12.6 -3.4 -8.4 -5.5 -5 C-7.7 -1.7 -10.5 2.5 -11.6 6 C-12.7 9.6 -12 14.4 -12.1 16.1" stroke-width="3"/>
<path d="M-1.5 -11.1 C-2.7 -9.1 -7 -3 -8.6 1 C-10.1 5 -10.2 11.1 -10.6 13.1" stroke-width="3"/>
<path d="M9.6 -12.1 C9.6 -10.4 10.2 -4.7 9.6 -2 C9 0.7 6.6 3 6 4" stroke-width="4.2"/>
<path d="M6 4 C5 5.2 2.1 9.1 -0.5 11.1 C-3.1 13.1 -8.1 15.3 -9.6 16.1" stroke-width="3"/>
<path d="M-8.6 21.7 C-7.4 22.1 -4.9 24.9 -1.5 24.2 C1.8 23.4 9.4 18.3 11.6 17.1" stroke-width="3"/>
<path d="M-12.1 20.1 C-12.5 20.6 -14.7 22.2 -14.6 23.2 C-14.5 24.2 -12.4 26.2 -11.6 26.2 C-10.7 26.2 -9.5 24.2 -9.6 23.2 C-9.7 22.2 -11.7 20.6 -12.1 20.1" stroke-width="3"/>
<path d="M-7.6 -24.2 L-6 -15.1" stroke-width="3.4"/>
<path d="M2.5 -18.1 L3.5 -12.1" stroke-width="3.4"/>
<path d="M-3.5 -22.2 L-2.5 -15.6" stroke-width="3.6"/>
</g>
<path d="M835 846.2 L847.5 860"/>
<path d="M847.5 865 L862.5 885"/>
<text transform="translate(911 862.5) scale(0.833 1)" font-size="44.4">4</text>
<path d="M861.2 858 C862.1 857.7 864.6 856.1 866.2 856.2 C867.9 856.4 867.1 858.1 871.2 858.8 C875.4 859.4 887.9 859.8 891.2 860"/>
<path d="M830 167 L1151.6 360 L1151.6 840 L1148.6 843 L736 1073" stroke-dasharray="72 11 7 14" stroke-dashoffset="61"/>
<path d="M880 294 L1082.7 417 L1082.7 848 L1079.7 851 L448 1209" stroke-dasharray="72 11 7 14" stroke-dashoffset="17"/>
<text transform="translate(971 606.5) scale(0.833 1)" font-size="44.4">3</text>
<path d="M973 622.5 L973 657.5"/>
<path d="M894 613.8 C895.2 614.2 891.9 610.6 901.5 616.2 C911.1 621.9 939 639 951.5 647.5 C964 656 968.2 660.8 976.5 667.5 C984.8 674.2 994.8 682.1 1001.5 687.5 C1008.2 692.9 1012.8 696.2 1016.5 700 C1020.2 703.8 1022.5 706.2 1024 710 C1025.5 713.8 1025.7 718.3 1025.2 722.5 C1024.8 726.7 1023.8 731.2 1021.5 735 C1019.2 738.8 1015.2 742.3 1011.5 745 C1007.8 747.7 1001.1 750.2 999 751.2"/>
<path d="M894 640 C898.2 642.5 909.4 648.8 919 655 C928.6 661.2 941.5 670.4 951.5 677.5 C961.5 684.6 970.2 691.2 979 697.5 C987.8 703.8 1000.2 710 1004 715 C1007.8 720 1003.6 724.2 1001.5 727.5 C999.4 730.8 996.1 732.9 991.5 735 C986.9 737.1 978.4 739.6 974 740 C969.6 740.4 966.7 737.9 965.2 737.5"/>
<path d="M964 737.5 L971.5 733.8 L974 738.8"/>
<path d="M964 740 L1001.5 761.2" stroke-width="3"/>
<path d="M894 785 C900.2 782.1 920.2 773.4 931.5 767.5 C942.8 761.6 956.5 752.5 961.5 749.5"/>
<path d="M894 810 C905.2 804 948.2 781.2 961.5 773.8 C974.8 766.2 969.8 767.3 974 765 C978.2 762.7 984.4 760.8 986.5 760"/>
<path d="M961.5 748.8 L961.5 773.8"/>
<path d="M974 752.5 L975.2 762.5"/>
<path d="M1000.2 762.5 L1009 755 L1017.8 758.8 L1020.2 767.5 L1014 776.2 L1005.2 775 L1000.2 762.5" stroke-width="3"/>
<path d="M1006.5 762.5 L1007.8 772.5" stroke-width="3.5"/>
<path d="M1012.8 762.5 L1015.2 772.5" stroke-width="3"/>
<path d="M1008.5 781.2 L1008.5 800"/>
<text transform="translate(1001.5 833) scale(0.833 1)" font-size="44.4">8</text>
<text transform="translate(930 900.5) scale(0.833 1)" font-size="44.4">5</text>
<path d="M894 892 L920 892"/>
<g transform="translate(658 917.5) rotate(0) scale(1 1)">
<path d="M-16.4 2.5 C-16.3 0.2 -16.9 -8.4 -15.7 -11.3 C-14.6 -14.3 -10.5 -14.5 -9.4 -15.1" stroke-width="3.4"/>
<path d="M-9.4 -3.8 C-9.3 -5.5 -9.6 -11.3 -8.8 -13.8 C-8 -16.4 -6.2 -17.4 -4.4 -18.9 C-2.6 -20.3 -0.4 -22 1.9 -22.7 C4.2 -23.3 8.2 -22.7 9.4 -22.7" stroke-width="3"/>
<path d="M-8.2 -16.4 C-6.9 -15.5 -2.7 -13.4 -0.6 -11.3 C1.5 -9.2 2.9 -7.1 4.4 -3.8 C5.9 -0.4 7.4 4.6 8.2 8.8 C8.9 13 8.7 19.3 8.8 21.4" stroke-width="3.6"/>
<path d="M9.4 -22.7 C9 -21.8 6.5 -19.9 6.9 -17.6 C7.3 -15.3 10.5 -12 12 -8.8 C13.4 -5.7 15.1 -2.1 15.7 1.3 C16.4 4.6 16.6 8.4 15.7 11.3 C14.9 14.3 11.8 17 10.7 18.9 C9.5 20.8 9.1 22 8.8 22.7" stroke-width="3"/>
<path d="M-1.9 -16.4 C-0.8 -15.3 2.7 -12.6 4.4 -10.1 C6.1 -7.6 7.6 -2.7 8.2 -1.3"/>
<path d="M-9.4 12.6 C-8.6 13.6 -6.3 17.6 -4.4 18.9 C-2.5 20.1 -0.2 20.3 1.9 20.1 C4 19.9 7.1 18 8.2 17.6" stroke-width="3"/>
<path d="M1.9 6.3 L6.9 12.6" stroke-width="3"/>
</g>
<path d="M686.2 882.5 C689.4 880.8 705.2 872.3 710 870 C714.8 867.7 719.8 865.3 722.5 865 C725.2 864.7 728 865.8 730 867.5 C732 869.2 736.3 874.5 737.5 877.5 C738.7 880.5 739.1 887.8 738.8 890 C738.4 892.2 738.8 891.4 735 893.8 C731.2 896.1 714.7 905 710 907.5 C705.3 910 701.8 912 700 912.5 C698.2 913 696.8 911.4 696.2 911.2"/>
<path d="M686.2 882.5 C686.9 884.6 688.3 890.2 690 895 C691.7 899.8 695.2 908.5 696.2 911.2"/>
<path d="M678.8 901.2 C678.5 899.8 676 894.6 677 892.5 C678 890.4 682.8 888.3 685 888.8 C687.2 889.2 689.2 894 690 895" stroke-width="3"/>
<path d="M682.5 912.5 C684.2 913.2 690.2 917.2 692.5 917 C694.8 916.8 695.6 912.2 696.2 911.2" stroke-width="3"/>
<path d="M738.8 876.2 L762.5 860"/>
<path d="M775 850 L790 843.8"/>
<path d="M675 906.2 L687.5 900"/>
<path d="M600 948.8 L656.2 918.8"/>
<text transform="translate(720 979.5) scale(0.833 1)" font-size="44.4" clip-path="url(#k1)">1</text>
<path d="M721.8 908.8 L721.8 942.5"/>
<text transform="translate(763 960.5) scale(0.833 1)" font-size="44.4">2</text>
<path d="M769.5 890 L769.5 923.8"/>
<text transform="translate(655 1018) scale(0.833 1)" font-size="44.4">2</text>
<path d="M665.8 946.2 L665.8 981.2"/>
<path d="M858.8 887.5 C859.9 885.6 866.9 881 868.8 880 C870.6 879 872.8 877.4 875 878.8 C877.2 880.1 886 888.2 887.5 891.2 C889 894.3 888.7 902.7 887.5 905 C886.3 907.3 879.4 910.8 877.5 911.2 C875.6 911.7 873.4 910.5 871.2 908.8 C869.1 907 860.2 898.7 858.8 896.2 C857.3 893.8 857.6 889.4 858.8 887.5Z"/>
<path d="M875 878.8 C874.4 880.6 871.9 885 871.2 890 C870.6 895 871.2 905.6 871.2 908.8"/>
<path d="M888.8 893.8 L898 893.8"/>
<path d="M846.2 868.8 L865 882.5" stroke-width="3"/>
<path d="M736.2 1073.2 L760 1085"/>
<path d="M762.5 1106.2 C762.7 1104 762.1 1096.7 763.8 1092.5 C765.4 1088.3 769.6 1083.8 772.5 1081.2 C775.4 1078.8 779 1077.9 781.2 1077.5 C783.5 1077.1 784.2 1077.1 786.2 1078.8 C788.3 1080.4 792.5 1086 793.8 1087.5"/>
<path d="M762.5 1106.2 L780 1111.2"/>
<path d="M793.8 1087.5 C792.3 1089.2 787.3 1093.5 785 1097.5 C782.7 1101.5 780.4 1107.9 780 1111.2 C779.6 1114.6 780.8 1115.8 782.5 1117.5 C784.2 1119.2 788.8 1120.6 790 1121.2"/>
<path d="M793.8 1087.5 C794.8 1087.8 794.8 1087 800 1089.5 C805.2 1092 816.7 1097.8 825 1102.5 C833.3 1107.2 844.6 1114.6 850 1117.5 C855.4 1120.4 856.2 1119.6 857.5 1120"/>
<path d="M790 1121.2 C795.8 1124.4 816.7 1135.6 825 1140 C833.3 1144.4 837.5 1146.2 840 1147.5"/>
<path d="M857.5 1120 C858 1119.5 860.5 1116.5 862.5 1115 C864.5 1113.5 875.2 1105.9 877.5 1105 C879.8 1104.1 883.5 1105.2 885 1106.2 C886.5 1107.2 891.9 1113.8 892.5 1115 C893.1 1116.2 893 1117.2 891.2 1118.8 C889.5 1120.2 878.1 1127.9 875 1130 C871.9 1132.1 862 1137.8 860 1140 C858 1142.2 855.5 1147.5 855 1152.5 C854.5 1157.5 855.2 1185.2 855 1190 C854.8 1194.8 853.2 1198.9 852.5 1200 C851.8 1201.1 848.5 1201.8 847.5 1201.2 C846.5 1200.8 843.1 1201.1 842.5 1195 C841.9 1188.9 840.9 1146.5 841.2 1140 C841.6 1133.5 844.6 1132 846.2 1130 C847.9 1128 856.4 1121 857.5 1120"/>
<path d="M844.5 1190 C845 1189.7 846.5 1187.8 847.5 1188 C848.5 1188.2 850.4 1190.1 850.5 1191.2 C850.6 1192.4 849 1195.2 848 1195 C847 1194.8 845.1 1190.8 844.5 1190"/>
<path d="M856.2 1190 L867.5 1183.8 L867.5 1230 L862.5 1236.2"/>
<path d="M836.2 1198.8 L846.2 1193.8"/>
<path d="M860 1115 L862.5 1122.5"/>
<path d="M875 1130 L898 1141.2"/>
<path d="M857.5 1160 L898 1180"/>
<text transform="translate(768 1193) scale(0.833 1)" font-size="44.4" clip-path="url(#k13)">13</text>
<path d="M780.5 1205 L780.5 1230"/>
<g transform="translate(785.3 1249.2) rotate(0) scale(1 1)">
<path d="M-12.1 -4 L-9.1 -9.6 L1 -12.6 L7 -10.6 L12.1 -5 L12.1 3 L7 5.5 L5 10.1 L0 12.6 L-3 9.1"/>
<path d="M1 -12.6 C1.7 -11.3 4 -8.1 5 -5 C6 -2 6.7 3.8 7 5.5"/>
<path d="M-2 -9.1 C-1.2 -7.7 1.8 -4.2 3 -1 C4.2 2.2 4.7 8.2 5 10.1"/>
<path d="M-9.1 -4 C-8.3 -5 -5.5 -5.7 -4 -5 C-2.5 -4.4 -0.5 -1.7 0 0 C0.5 1.7 -0.2 4.1 -1 5 C-1.8 6 -3.8 6.2 -5 5.5 C-6.3 4.9 -7.9 2.6 -8.6 1 C-9.2 -0.6 -9.8 -3 -9.1 -4Z" stroke-width="3"/>
<path d="M-12.1 0 L-31.2 9.6 L-31.7 15.1 L-27.2 18.6 L-24.2 18.1 L-5 8.6"/>
<path d="M-28.7 8.6 L-24.7 16.1"/>
<path d="M-25.5 6.9 L-21.5 14.5"/>
<path d="M-22.3 5.3 L-18.2 12.9"/>
<path d="M-19 3.7 L-15 11.3"/>
<path d="M-15.8 2.1 L-11.8 9.7"/>
<path d="M-12.6 0.5 L-8.6 8.1"/>
<path d="M-35.8 18.6 L-31.7 16.6"/>
</g>
<path d="M433 1221 L657 1267" stroke-dasharray="75 8 10 8"/>
<g transform="translate(853 1273) rotate(0) scale(1 1)">
<path d="M-12.1 -4 L-9.1 -9.6 L1 -12.6 L7 -10.6 L12.1 -5 L12.1 3 L7 5.5 L5 10.1 L0 12.6 L-3 9.1"/>
<path d="M1 -12.6 C1.7 -11.3 4 -8.1 5 -5 C6 -2 6.7 3.8 7 5.5"/>
<path d="M-2 -9.1 C-1.2 -7.7 1.8 -4.2 3 -1 C4.2 2.2 4.7 8.2 5 10.1"/>
<path d="M-9.1 -4 C-8.3 -5 -5.5 -5.7 -4 -5 C-2.5 -4.4 -0.5 -1.7 0 0 C0.5 1.7 -0.2 4.1 -1 5 C-1.8 6 -3.8 6.2 -5 5.5 C-6.3 4.9 -7.9 2.6 -8.6 1 C-9.2 -0.6 -9.8 -3 -9.1 -4Z" stroke-width="3"/>
<path d="M-12.1 0 L-31.2 9.6 L-31.7 15.1 L-27.2 18.6 L-24.2 18.1 L-5 8.6"/>
<path d="M-28.7 8.6 L-24.7 16.1"/>
<path d="M-25.5 6.9 L-21.5 14.5"/>
<path d="M-22.3 5.3 L-18.2 12.9"/>
<path d="M-19 3.7 L-15 11.3"/>
<path d="M-15.8 2.1 L-11.8 9.7"/>
<path d="M-12.6 0.5 L-8.6 8.1"/>
<path d="M-35.8 18.6 L-31.7 16.6"/>
</g>
<path d="M869 1271 L891 1271"/>
<text transform="translate(901 1278) scale(0.833 1)" font-size="44.4" clip-path="url(#k13)">13</text>
<path d="M640 1262.5 L657.5 1266.2"/>
<path d="M662.5 1272.5 C663.5 1270.2 666.2 1261.9 668.8 1258.8 C671.2 1255.6 674 1253.8 677.5 1253.8 C681 1253.8 686.2 1257.1 690 1258.8 C693.8 1260.4 698.3 1262.9 700 1263.8"/>
<path d="M662.5 1272.5 C663.1 1274.8 662.9 1283.8 666.2 1286.2 C669.6 1288.8 679.2 1289.4 682.5 1287.5 C685.8 1285.6 685 1279.2 686.2 1275 C687.5 1270.8 689.4 1264.6 690 1262.5"/>
<path d="M690 1258.8 C692.5 1259.2 699.6 1260 705 1261.2 C710.4 1262.5 715.4 1264.8 722.5 1266.2 C729.6 1267.7 740.4 1267.3 747.5 1270 C754.6 1272.7 762.1 1280.4 765 1282.5"/>
<path d="M700 1263.8 C700.2 1265.6 701.2 1270.6 701.2 1275 C701.2 1279.4 700.6 1285.4 700 1290 C699.4 1294.6 702.5 1300.2 697.5 1302.5 C692.5 1304.8 674.6 1303.5 670 1303.8"/>
<path d="M672.5 1315 C672.9 1315.8 670.4 1319.2 675 1320 C679.6 1320.8 693.8 1321.7 700 1320 C706.2 1318.3 710 1313.8 712.5 1310 C715 1306.2 713.3 1299.8 715 1297.5 C716.7 1295.2 718.8 1295.8 722.5 1296.2 C726.2 1296.7 735 1299.4 737.5 1300"/>
<path d="M722.5 1266.2 C721.2 1268.5 716.2 1274.8 715 1280 C713.8 1285.2 715 1294.6 715 1297.5"/>
<path d="M686.2 1275 C686.9 1277.5 687.9 1287.5 690 1290 C692.1 1292.5 697.3 1290 698.8 1290"/>
<path d="M670 1303.8 L666.2 1307.5 L672.5 1315 L677.5 1311.2 L670 1303.8"/>
<path d="M662.5 1316.2 L672.5 1311.2"/>
<path d="M765 1282.5 L755 1287.5 L747.5 1297.5 L742.5 1305 L736.2 1305 L736.2 1338.8 L752.5 1330 L750 1305"/>
<path d="M757.5 1322.5 L765 1330 L762.5 1337.5 L756.2 1336.2" stroke-width="3"/>
<path d="M765 1282.5 L770 1290 L763.8 1302.5 L765 1330"/>
<path d="M755 1287.5 L757.5 1297.5 L750 1305"/>
<path d="M778.8 1288.8 L802.5 1302.5 L830 1315 L855 1340"/>
<path d="M770 1317.5 L800 1335 L827.5 1356.2"/>
<path d="M802.5 1301.2 C804.6 1300.6 811.7 1299.4 815 1297.5 C818.3 1295.6 821.2 1291.2 822.5 1290"/>
<path d="M767.5 1288.8 L865 1234.5" stroke-dasharray="58 10 6 10"/>
<path d="M687.5 1350 C692.2 1349.8 715.5 1347.8 722.5 1348.8 C729.5 1349.8 734.3 1354.7 740 1357.5 C745.7 1360.3 758.7 1367 765 1370 C771.3 1373 782.8 1378.8 787.5 1380 C792.2 1381.2 796.3 1379.8 800 1378.8 C803.7 1377.8 808 1376 815 1372.5 C822 1369 842.5 1358.2 852.5 1352.5 C862.5 1346.8 884.5 1333.3 890 1330 C895.5 1326.7 893.5 1328 894 1327.8"/>
<path d="M687.5 1380 C691.8 1380 713 1379 720 1380 C727 1381 734 1384.7 740 1387.5 C746 1390.3 759 1398.4 765 1401.2 C771 1404.1 780 1408.1 785 1408.8 C790 1409.4 796.8 1407.4 802.5 1406.2 C808.2 1405.1 820.8 1402.5 827.5 1400 C834.2 1397.5 844.2 1391.8 852.5 1387.5 C860.8 1383.2 884.5 1370.5 890 1367.5 C895.5 1364.5 893.5 1365.5 894 1365.2"/>
<path d="M687.5 1350 C685.8 1349.6 680.8 1347.1 677.5 1347.5 C674.2 1347.9 669.4 1347.9 667.5 1352.5 C665.6 1357.1 665 1370.4 666.2 1375 C667.5 1379.6 671.5 1379.2 675 1380 C678.5 1380.8 685.4 1380 687.5 1380"/>
<path d="M687.5 1350 C688.1 1352.5 691.2 1360 691.2 1365 C691.2 1370 688.1 1377.5 687.5 1380"/>
<path d="M667.5 1352.5 C666.5 1352.1 663.8 1350 661.2 1350 C658.8 1350 654.6 1350.4 652.5 1352.5 C650.4 1354.6 648.8 1358.3 648.8 1362.5 C648.8 1366.7 650.8 1374.2 652.5 1377.5 C654.2 1380.8 656.5 1382.9 658.8 1382.5 C661 1382.1 665 1376.2 666.2 1375"/>
<path d="M661.2 1350 C661.7 1352.5 664.2 1359.6 663.8 1365 C663.3 1370.4 659.6 1379.6 658.8 1382.5" stroke-width="3"/>
<path d="M657.5 1355 C656.5 1355.8 652.1 1357.5 651.2 1360 C650.4 1362.5 651.5 1367.9 652.5 1370 C653.5 1372.1 656.7 1372.1 657.5 1372.5"/>
<path d="M640 1365 L655 1365"/>
<text transform="translate(714 1464.5) scale(0.833 1)" font-size="44.4" clip-path="url(#k11)">11</text>
<path d="M730 1392.5 L730 1430"/>
<path d="M640 1552.5 C643.3 1551.7 656.7 1548.6 665 1546.2 C673.3 1543.9 692.5 1538.2 702.5 1535 C712.5 1531.8 731.7 1526.8 740 1522.5 C748.3 1518.2 755 1509.2 765 1502.5 C775 1495.8 803.3 1479.2 815 1472.5 C826.7 1465.8 844.2 1456.8 852.5 1452.5 C860.8 1448.2 873.7 1442.3 877.5 1440 C881.3 1437.7 880.8 1437.3 881.2 1435 C881.8 1432.7 882.1 1424.8 881.2 1422.5 C880.4 1420.2 875.8 1418.2 875 1417.5"/>
<path d="M640 1585 C645 1583.5 665.8 1576.8 677.5 1573.8 C689.2 1570.8 715.8 1566.7 727.5 1562.5 C739.2 1558.3 755 1548.2 765 1542.5 C775 1536.8 794.8 1524.7 802.5 1520 C810.2 1515.3 817.5 1510.5 822.5 1507.5 C827.5 1504.5 835.7 1499.8 840 1497.5 C844.3 1495.2 853 1491 855 1490"/>
<path d="M872.5 1478.8 C875.4 1476.9 885 1471.9 890 1467.5 C895 1463.1 899.2 1457.9 902.5 1452.5 C905.8 1447.1 908.5 1440.8 910 1435 C911.5 1429.2 912.1 1423.3 911.2 1417.5 C910.4 1411.7 908.1 1405.4 905 1400 C901.9 1394.6 896 1388.8 892.5 1385 C889 1381.2 885.2 1378.8 883.8 1377.5"/>
<path d="M860 1393.8 C861.5 1392.9 872.4 1384.8 875 1385 C877.6 1385.2 886.2 1394.4 886.2 1396.2 C886.2 1398.1 876.4 1401.6 875 1403.8 C873.6 1405.9 873.5 1414.4 872.5 1417.5 C871.5 1420.6 866.5 1433.4 865 1435 C863.5 1436.6 858.8 1434.6 857.5 1433.8 C856.2 1432.9 852.2 1429 852.5 1426.2 C852.8 1423.5 859.2 1409.5 860 1406.2 C860.8 1403 860 1395 860 1393.8"/>
<path d="M858.8 1426.2 L862.5 1423.8 L865 1427.5 L861.2 1430 L858.8 1426.2"/>
<path d="M852.5 1430 L861.2 1426.2"/>
<path d="M847.5 1466.2 L860 1457.5 L867.5 1465 L871.2 1477.5 L871.2 1502.5 L863.8 1505 L865 1510 L860 1510 L853.8 1502.5 L856.2 1497.5 L856.2 1480 L847.5 1466.2"/>
<path d="M860 1457.5 L863.8 1472.5 L863.8 1505"/>
<path d="M826.2 1507.5 L832.5 1503.8 L840 1502.5 L837.5 1510 L831.2 1515 L826.2 1507.5"/>
<path d="M842 1497.5 L842 1563.8 L852.5 1557.5"/>
<path d="M865 1505 L920 1532.5" stroke-dasharray="40 8 6 8"/>
<path d="M920 1527.5 L920 1432.5"/>
<path d="M920 1427.5 L920 1352.5"/>
<path d="M931.2 1385 L931.2 1465 L938 1465"/>
<path d="M905 1397.5 L915 1392.5"/>
<g transform="translate(879 1546) rotate(0) scale(1 1)">
<path d="M-12.1 -4 L-9.1 -9.6 L1 -12.6 L7 -10.6 L12.1 -5 L12.1 3 L7 5.5 L5 10.1 L0 12.6 L-3 9.1"/>
<path d="M1 -12.6 C1.7 -11.3 4 -8.1 5 -5 C6 -2 6.7 3.8 7 5.5"/>
<path d="M-2 -9.1 C-1.2 -7.7 1.8 -4.2 3 -1 C4.2 2.2 4.7 8.2 5 10.1"/>
<path d="M-9.1 -4 C-8.3 -5 -5.5 -5.7 -4 -5 C-2.5 -4.4 -0.5 -1.7 0 0 C0.5 1.7 -0.2 4.1 -1 5 C-1.8 6 -3.8 6.2 -5 5.5 C-6.3 4.9 -7.9 2.6 -8.6 1 C-9.2 -0.6 -9.8 -3 -9.1 -4Z" stroke-width="3"/>
<path d="M-12.1 0 L-31.2 9.6 L-31.7 15.1 L-27.2 18.6 L-24.2 18.1 L-5 8.6"/>
<path d="M-28.7 8.6 L-24.7 16.1"/>
<path d="M-25.5 6.9 L-21.5 14.5"/>
<path d="M-22.3 5.3 L-18.2 12.9"/>
<path d="M-19 3.7 L-15 11.3"/>
<path d="M-15.8 2.1 L-11.8 9.7"/>
<path d="M-12.6 0.5 L-8.6 8.1"/>
<path d="M-35.8 18.6 L-31.7 16.6"/>
</g>
<text transform="translate(863 1624.5) scale(0.833 1)" font-size="44.4" clip-path="url(#k13)">13</text>
<path d="M875 1558.8 L875 1590"/>
<text transform="translate(718 1647) scale(0.833 1)" font-size="44.4" clip-path="url(#k16)">16</text>
<path d="M730 1570 L730 1607.5"/>
<path d="M904 1150 C906.3 1151.7 916.2 1158.2 921.5 1162.5 C926.8 1166.8 938 1175.8 944 1182.5 C950 1189.2 960.8 1205.5 966.5 1212.5 C972.2 1219.5 982.8 1232.2 986.5 1235 C990.2 1237.8 990.7 1234.1 994 1233.8 C997.3 1233.4 1007.5 1231.7 1011.5 1232.5 C1015.5 1233.3 1021 1237.7 1024 1240 C1027 1242.3 1030 1247.2 1034 1250 C1038 1252.8 1051.3 1259.8 1054 1261.2"/>
<path d="M894 1180 C896.7 1181.8 907.3 1188.1 914 1193.8 C920.7 1199.4 937 1214.7 944 1222.5 C951 1230.3 962.7 1246.5 966.5 1252.5 C970.3 1258.5 972.1 1264.2 972.8 1267.5 C973.4 1270.8 972.7 1275.2 971.5 1277.5 C970.3 1279.8 969.3 1281.3 964 1285 C958.7 1288.7 940.8 1299.7 931.5 1305 C922.2 1310.3 899 1322.3 894 1325"/>
<path d="M981.5 1241.2 C981.7 1242.7 980.7 1248.1 982.8 1250 C984.8 1251.9 990.5 1252.1 994 1252.5 C997.5 1252.9 1002.3 1252.5 1004 1252.5"/>
<path d="M1001.5 1253.8 L1039 1272.5 L1044 1273.8"/>
<path d="M1000.2 1270 L1037.8 1286.2"/>
<path d="M1001.5 1253.8 L1000.2 1270"/>
<path d="M1037.8 1272.5 L1037.8 1286.2 L1044 1286.2 L1044 1273.8"/>
<path d="M1049 1267.5 C1049.6 1265.2 1053 1262.9 1055.2 1262.5 C1057.5 1262.1 1061.3 1263.3 1062.8 1265 C1064.2 1266.7 1064.6 1270.4 1064 1272.5 C1063.4 1274.6 1061.1 1276.9 1059 1277.5 C1056.9 1278.1 1053.2 1277.9 1051.5 1276.2 C1049.8 1274.6 1048.4 1269.8 1049 1267.5Z"/>
<path d="M1055.2 1269.5 C1055.2 1268.5 1057.3 1266.9 1058.2 1267 C1059.2 1267.1 1060.8 1269 1060.8 1270 C1060.8 1271 1059.2 1273.1 1058.2 1273 C1057.3 1272.9 1055.2 1270.5 1055.2 1269.5Z"/>
<path d="M995.2 1273.8 C995.5 1275.8 995.5 1283.1 996.5 1286.2 C997.5 1289.4 1000.7 1291.5 1001.5 1292.5"/>
<path d="M1001.5 1292.5 L1044 1310 L1050.2 1312.5"/>
<path d="M999 1275 L1046.5 1296.2 L1056.5 1300"/>
<path d="M1050.2 1312.5 C1049.4 1310.8 1048 1307.3 1049 1305 C1050 1302.7 1054.2 1299.2 1056.5 1298.8 C1058.8 1298.3 1061.5 1300.6 1062.8 1302.5 C1064 1304.4 1064.4 1308.1 1064 1310 C1063.6 1311.9 1061.9 1312.9 1060.2 1313.8 C1058.6 1314.6 1055.7 1315.2 1054 1315 C1052.3 1314.8 1051.1 1314.2 1050.2 1312.5Z"/>
<path d="M1001.5 1292.5 C999.8 1294.2 994 1301 989 1305 C984 1309 971 1318.3 964 1322.5 C957 1326.7 945.8 1330.9 936.5 1336.2 C927.2 1341.6 899.7 1359 894 1362.5"/>
<path d="M934 1305 L946.5 1298.8 L949 1301.2 L936.5 1307.5 L934 1305"/>
<path d="M1066.5 1271.2 L1079 1281.2 L1079 1270 L1094 1273.8"/>
<g transform="translate(1112 1283) rotate(-10) scale(0.850 0.850)">
<path d="M-13.1 -24.7 C-12.2 -24.8 -9.5 -25.5 -7.6 -25.2 C-5.6 -24.8 -3.9 -23.8 -1.5 -22.7 C0.8 -21.5 3.5 -20.2 6.5 -18.1 C9.6 -16 14.5 -12.6 16.6 -10.1 C18.7 -7.6 18.8 -5.4 19.1 -3 C19.5 -0.7 18.7 2.9 18.6 4" stroke-width="3.2"/>
<path d="M16.6 -4 L14.6 4" stroke-width="3"/>
<path d="M-7.6 -14.6 C-8.9 -13.5 -13.8 -10.5 -15.6 -8.1 C-17.5 -5.6 -18.3 -3.9 -18.6 0 C-19 3.9 -18.6 12.2 -17.6 15.1 C-16.6 18 -13.4 17.2 -12.6 17.6" stroke-width="4.2"/>
<path d="M1.5 -14.1 C0.3 -12.6 -3.4 -8.4 -5.5 -5 C-7.7 -1.7 -10.5 2.5 -11.6 6 C-12.7 9.6 -12 14.4 -12.1 16.1" stroke-width="3"/>
<path d="M-1.5 -11.1 C-2.7 -9.1 -7 -3 -8.6 1 C-10.1 5 -10.2 11.1 -10.6 13.1" stroke-width="3"/>
<path d="M9.6 -12.1 C9.6 -10.4 10.2 -4.7 9.6 -2 C9 0.7 6.6 3 6 4" stroke-width="4.2"/>
<path d="M6 4 C5 5.2 2.1 9.1 -0.5 11.1 C-3.1 13.1 -8.1 15.3 -9.6 16.1" stroke-width="3"/>
<path d="M-8.6 21.7 C-7.4 22.1 -4.9 24.9 -1.5 24.2 C1.8 23.4 9.4 18.3 11.6 17.1" stroke-width="3"/>
<path d="M-12.1 20.1 C-12.5 20.6 -14.7 22.2 -14.6 23.2 C-14.5 24.2 -12.4 26.2 -11.6 26.2 C-10.7 26.2 -9.5 24.2 -9.6 23.2 C-9.7 22.2 -11.7 20.6 -12.1 20.1" stroke-width="3"/>
<path d="M-7.6 -24.2 L-6 -15.1" stroke-width="3.4"/>
<path d="M2.5 -18.1 L3.5 -12.1" stroke-width="3.4"/>
<path d="M-3.5 -22.2 L-2.5 -15.6" stroke-width="3.6"/>
</g>
<g transform="translate(1113 1339) rotate(-10) scale(0.850 0.850)">
<path d="M-13.1 -24.7 C-12.2 -24.8 -9.5 -25.5 -7.6 -25.2 C-5.6 -24.8 -3.9 -23.8 -1.5 -22.7 C0.8 -21.5 3.5 -20.2 6.5 -18.1 C9.6 -16 14.5 -12.6 16.6 -10.1 C18.7 -7.6 18.8 -5.4 19.1 -3 C19.5 -0.7 18.7 2.9 18.6 4" stroke-width="3.2"/>
<path d="M16.6 -4 L14.6 4" stroke-width="3"/>
<path d="M-7.6 -14.6 C-8.9 -13.5 -13.8 -10.5 -15.6 -8.1 C-17.5 -5.6 -18.3 -3.9 -18.6 0 C-19 3.9 -18.6 12.2 -17.6 15.1 C-16.6 18 -13.4 17.2 -12.6 17.6" stroke-width="4.2"/>
<path d="M1.5 -14.1 C0.3 -12.6 -3.4 -8.4 -5.5 -5 C-7.7 -1.7 -10.5 2.5 -11.6 6 C-12.7 9.6 -12 14.4 -12.1 16.1" stroke-width="3"/>
<path d="M-1.5 -11.1 C-2.7 -9.1 -7 -3 -8.6 1 C-10.1 5 -10.2 11.1 -10.6 13.1" stroke-width="3"/>
<path d="M9.6 -12.1 C9.6 -10.4 10.2 -4.7 9.6 -2 C9 0.7 6.6 3 6 4" stroke-width="4.2"/>
<path d="M6 4 C5 5.2 2.1 9.1 -0.5 11.1 C-3.1 13.1 -8.1 15.3 -9.6 16.1" stroke-width="3"/>
<path d="M-8.6 21.7 C-7.4 22.1 -4.9 24.9 -1.5 24.2 C1.8 23.4 9.4 18.3 11.6 17.1" stroke-width="3"/>
<path d="M-12.1 20.1 C-12.5 20.6 -14.7 22.2 -14.6 23.2 C-14.5 24.2 -12.4 26.2 -11.6 26.2 C-10.7 26.2 -9.5 24.2 -9.6 23.2 C-9.7 22.2 -11.7 20.6 -12.1 20.1" stroke-width="3"/>
<path d="M-7.6 -24.2 L-6 -15.1" stroke-width="3.4"/>
<path d="M2.5 -18.1 L3.5 -12.1" stroke-width="3.4"/>
<path d="M-3.5 -22.2 L-2.5 -15.6" stroke-width="3.6"/>
</g>
<path d="M1109 1285 L1135.2 1296.2" stroke-width="3"/>
<path d="M1111.5 1341.2 L1134 1351.2" stroke-width="3"/>
<path d="M1064 1312.5 L1099 1332.5"/>
<g transform="translate(1154 1307.5) rotate(0) scale(1 1)">
<path d="M-20 -7.5 C-19 -9.7 -12 -15.1 -10 -16.2 C-8 -17.4 -5.9 -19.1 -2.5 -17.5 C0.9 -15.9 16.1 -5.4 18.8 -2.5 C21.4 0.4 20.4 5.5 20 7.5 C19.6 9.5 16.8 13.8 15 15 C13.2 16.2 8.9 19 5 17.5 C1.1 16 -15.8 5.4 -18.8 2.5 C-21.7 -0.4 -21 -5.3 -20 -7.5Z"/>
<path d="M18.8 -2.5 C16.9 -2.5 11 -3.8 7.5 -2.5 C4 -1.2 -0.8 2.5 -2.5 5 C-4.2 7.5 -2.5 11.2 -2.5 12.5"/>
<path d="M3.8 -5 L3.8 0"/>
</g>
<g transform="translate(1152.5 1363.5) rotate(0) scale(1 1)">
<path d="M-20 -7.5 C-19 -9.7 -12 -15.1 -10 -16.2 C-8 -17.4 -5.9 -19.1 -2.5 -17.5 C0.9 -15.9 16.1 -5.4 18.8 -2.5 C21.4 0.4 20.4 5.5 20 7.5 C19.6 9.5 16.8 13.8 15 15 C13.2 16.2 8.9 19 5 17.5 C1.1 16 -15.8 5.4 -18.8 2.5 C-21.7 -0.4 -21 -5.3 -20 -7.5Z"/>
<path d="M18.8 -2.5 C16.9 -2.5 11 -3.8 7.5 -2.5 C4 -1.2 -0.8 2.5 -2.5 5 C-4.2 7.5 -2.5 11.2 -2.5 12.5"/>
<path d="M3.8 -5 L3.8 0"/>
</g>
<text transform="translate(1100 1219.5) scale(0.833 1)" font-size="44.4" clip-path="url(#k19)">19</text>
<path d="M1114.5 1227.5 L1114.5 1257.5"/>
<text transform="translate(1143 1245.5) scale(0.833 1)" font-size="44.4">20</text>
<path d="M1160.2 1258.8 L1160.2 1290"/>
<text transform="translate(1097.5 1433) scale(0.833 1)" font-size="44.4" clip-path="url(#k19)">19</text>
<path d="M1112 1365 L1112 1396.2"/>
<text transform="translate(1140.5 1453) scale(0.833 1)" font-size="44.4">20</text>
<path d="M1156 1383.8 L1156 1416.2"/>
<text transform="translate(1025 1388) scale(0.833 1)" font-size="44.4" clip-path="url(#k18)">18</text>
<path d="M988 1382.5 L1011.5 1382.5"/>
<path d="M924 1340 L937.8 1335 L937.8 1352.5 L931.5 1362.5 L925.2 1360 L924 1340"/>
<path d="M927.8 1352.5 L931.5 1350 L934 1355 L930.2 1357.5 L927.8 1352.5"/>
<path d="M934 1353.8 L947.8 1365"/>
<g transform="translate(975 1381) rotate(8) scale(0.720 -0.720)">
<path d="M-12.1 -4 L-9.1 -9.6 L1 -12.6 L7 -10.6 L12.1 -5 L12.1 3 L7 5.5 L5 10.1 L0 12.6 L-3 9.1"/>
<path d="M1 -12.6 C1.7 -11.3 4 -8.1 5 -5 C6 -2 6.7 3.8 7 5.5"/>
<path d="M-2 -9.1 C-1.2 -7.7 1.8 -4.2 3 -1 C4.2 2.2 4.7 8.2 5 10.1"/>
<path d="M-9.1 -4 C-8.3 -5 -5.5 -5.7 -4 -5 C-2.5 -4.4 -0.5 -1.7 0 0 C0.5 1.7 -0.2 4.1 -1 5 C-1.8 6 -3.8 6.2 -5 5.5 C-6.3 4.9 -7.9 2.6 -8.6 1 C-9.2 -0.6 -9.8 -3 -9.1 -4Z" stroke-width="3"/>
<path d="M-12.1 0 L-31.2 9.6 L-31.7 15.1 L-27.2 18.6 L-24.2 18.1 L-5 8.6"/>
<path d="M-28.7 8.6 L-24.7 16.1"/>
<path d="M-25.5 6.9 L-21.5 14.5"/>
<path d="M-22.3 5.3 L-18.2 12.9"/>
<path d="M-19 3.7 L-15 11.3"/>
<path d="M-15.8 2.1 L-11.8 9.7"/>
<path d="M-12.6 0.5 L-8.6 8.1"/>
<path d="M-35.8 18.6 L-31.7 16.6"/>
</g>
<g transform="translate(980 1441) rotate(0) scale(1 1)">
<path d="M-12.1 -4 L-9.1 -9.6 L1 -12.6 L7 -10.6 L12.1 -5 L12.1 3 L7 5.5 L5 10.1 L0 12.6 L-3 9.1"/>
<path d="M1 -12.6 C1.7 -11.3 4 -8.1 5 -5 C6 -2 6.7 3.8 7 5.5"/>
<path d="M-2 -9.1 C-1.2 -7.7 1.8 -4.2 3 -1 C4.2 2.2 4.7 8.2 5 10.1"/>
<path d="M-9.1 -4 C-8.3 -5 -5.5 -5.7 -4 -5 C-2.5 -4.4 -0.5 -1.7 0 0 C0.5 1.7 -0.2 4.1 -1 5 C-1.8 6 -3.8 6.2 -5 5.5 C-6.3 4.9 -7.9 2.6 -8.6 1 C-9.2 -0.6 -9.8 -3 -9.1 -4Z" stroke-width="3"/>
<path d="M-12.1 0 L-31.2 9.6 L-31.7 15.1 L-27.2 18.6 L-24.2 18.1 L-5 8.6"/>
<path d="M-28.7 8.6 L-24.7 16.1"/>
<path d="M-25.5 6.9 L-21.5 14.5"/>
<path d="M-22.3 5.3 L-18.2 12.9"/>
<path d="M-19 3.7 L-15 11.3"/>
<path d="M-15.8 2.1 L-11.8 9.7"/>
<path d="M-12.6 0.5 L-8.6 8.1"/>
<path d="M-35.8 18.6 L-31.7 16.6"/>
</g>
<text transform="translate(965 1523) scale(0.833 1)" font-size="44.4" clip-path="url(#k13)">13</text>
<path d="M974.5 1456.2 L974.5 1487.5"/>
<path d="M931 1385 L931 1467.5 L947.8 1458.8"/>
<path d="M925.2 1385.5 L931 1385"/>
<path d="M905.2 1396.2 L916.5 1392.5"/>
<path d="M388 992 L388 1710" stroke-dasharray="60 8 12 8"/>
<path d="M387.5 1710 L391.2 1712.5 L422.5 1693.8"/>
<path d="M414.3 925 L414.3 1371" stroke-dasharray="62 8 12 8"/>
<path d="M414.5 1370.5 L421.2 1370.5"/>
<path d="M431.2 1370.5 L475 1368.8"/>
<g transform="translate(479.3 1372.3) rotate(0) scale(1 1)">
<path d="M-23.7 -7 C-23.6 -8.2 -23.9 -11.8 -23.2 -14.1 C-22.4 -16.4 -21 -19.1 -19.1 -20.6 C-17.3 -22.2 -15.4 -22.3 -12.1 -23.2 C-8.7 -24 -3.9 -25.3 1 -25.7 C5.9 -26.1 13.3 -26.5 17.1 -25.7 C21 -24.8 23 -21.5 24.2 -20.6" stroke-width="3.2"/>
<path d="M-19.1 -9.1 C-18.6 -10.6 -17.5 -15.9 -16.1 -18.1 C-14.8 -20.3 -11.9 -21.5 -11.1 -22.2" stroke-width="3"/>
<path d="M-12.1 -9.1 C-11.6 -10.7 -10.4 -17 -9.1 -19.1 C-7.7 -21.3 -4.9 -21.7 -4 -22.2" stroke-width="3"/>
<path d="M-23.7 5 C-23.2 6.5 -22.6 11.6 -21.1 14.1 C-19.7 16.6 -17.6 18.8 -15.1 20.1 C-12.6 21.5 -8.4 22.5 -6 22.2 C-3.7 21.8 -1.8 18.8 -1 18.1" stroke-width="3"/>
<path d="M-11.1 5 C-10.1 7 -6.7 14.9 -5 17.1 C-3.4 19.3 -1.7 18 -1 18.1" stroke-width="2.6"/>
<path d="M-4 -21.1 C-2.9 -19.6 1.5 -15.3 3 -12.1 C4.5 -8.9 5 -5.7 5 -2 C5 1.7 4.2 6.5 3 10.1 C1.8 13.6 0 16.4 -2 19.1 C-4 21.8 -7.9 25 -9.1 26.2" stroke-width="3"/>
<path d="M4 -22.2 C4.9 -20.5 8.1 -15.8 9.1 -12.1 C10.1 -8.4 10.2 -3.7 10.1 0 C9.9 3.7 9.6 6.7 8.1 10.1 C6.5 13.4 2.2 18.5 1 20.1" stroke-width="3.4"/>
<path d="M11.1 -21.1 C11.7 -19.3 14.3 -13.8 15.1 -10.1 C15.9 -6.4 16.3 -3 16.1 1 C15.9 5 15.4 10.9 14.1 14.1 C12.8 17.3 10.2 18.8 8.1 20.1 C5.9 21.5 2.2 21.8 1 22.2" stroke-width="3.2"/>
<path d="M17.1 -25.2 L15.6 -17.1" stroke-width="2.6"/>
<path d="M-13.1 27.2 L-2 27.2 L0 22.2" stroke-width="3"/>
<path d="M-12.9 28.5 L-2.5 28.5" stroke-width="2.6"/>
</g>
<g transform="translate(614 1371) rotate(0) scale(1 1)">
<path d="M-23.7 -7 C-23.6 -8.2 -23.9 -11.8 -23.2 -14.1 C-22.4 -16.4 -21 -19.1 -19.1 -20.6 C-17.3 -22.2 -15.4 -22.3 -12.1 -23.2 C-8.7 -24 -3.9 -25.3 1 -25.7 C5.9 -26.1 13.3 -26.5 17.1 -25.7 C21 -24.8 23 -21.5 24.2 -20.6" stroke-width="3.2"/>
<path d="M-19.1 -9.1 C-18.6 -10.6 -17.5 -15.9 -16.1 -18.1 C-14.8 -20.3 -11.9 -21.5 -11.1 -22.2" stroke-width="3"/>
<path d="M-12.1 -9.1 C-11.6 -10.7 -10.4 -17 -9.1 -19.1 C-7.7 -21.3 -4.9 -21.7 -4 -22.2" stroke-width="3"/>
<path d="M-23.7 5 C-23.2 6.5 -22.6 11.6 -21.1 14.1 C-19.7 16.6 -17.6 18.8 -15.1 20.1 C-12.6 21.5 -8.4 22.5 -6 22.2 C-3.7 21.8 -1.8 18.8 -1 18.1" stroke-width="3"/>
<path d="M-11.1 5 C-10.1 7 -6.7 14.9 -5 17.1 C-3.4 19.3 -1.7 18 -1 18.1" stroke-width="2.6"/>
<path d="M-4 -21.1 C-2.9 -19.6 1.5 -15.3 3 -12.1 C4.5 -8.9 5 -5.7 5 -2 C5 1.7 4.2 6.5 3 10.1 C1.8 13.6 0 16.4 -2 19.1 C-4 21.8 -7.9 25 -9.1 26.2" stroke-width="3"/>
<path d="M4 -22.2 C4.9 -20.5 8.1 -15.8 9.1 -12.1 C10.1 -8.4 10.2 -3.7 10.1 0 C9.9 3.7 9.6 6.7 8.1 10.1 C6.5 13.4 2.2 18.5 1 20.1" stroke-width="3.4"/>
<path d="M11.1 -21.1 C11.7 -19.3 14.3 -13.8 15.1 -10.1 C15.9 -6.4 16.3 -3 16.1 1 C15.9 5 15.4 10.9 14.1 14.1 C12.8 17.3 10.2 18.8 8.1 20.1 C5.9 21.5 2.2 21.8 1 22.2" stroke-width="3.2"/>
<path d="M17.1 -25.2 L15.6 -17.1" stroke-width="2.6"/>
<path d="M-13.1 27.2 L-2 27.2 L0 22.2" stroke-width="3"/>
<path d="M-12.9 28.5 L-2.5 28.5" stroke-width="2.6"/>
</g>
<path d="M527.5 1348.8 C531.2 1348.8 568.1 1348 572.5 1348.8 C576.9 1349.5 579.4 1354.9 580 1357.5 C580.6 1360.1 580.6 1377.4 580 1380 C579.4 1382.6 573.8 1388 572.5 1388.8 C571.2 1389.5 566 1388.4 565 1388.8 C564 1389.1 563.1 1392.2 560 1392.5 C556.9 1392.8 530.2 1392.5 527.5 1392.5"/>
<path d="M527.5 1348.8 C525.6 1349.2 519.4 1349 516.2 1351.2 C513.1 1353.5 510 1357.7 508.8 1362.5 C507.5 1367.3 507.5 1375.4 508.8 1380 C510 1384.6 513.1 1387.9 516.2 1390 C519.4 1392.1 525.6 1392.1 527.5 1392.5"/>
<path d="M526.2 1360 C525 1359.8 520.8 1357.5 518.8 1358.8 C516.7 1360 514.4 1364 513.8 1367.5 C513.1 1371 513.5 1377.1 515 1380 C516.5 1382.9 521.2 1384.2 522.5 1385"/>
<path d="M527.5 1348.8 C528.2 1351 531.4 1357.3 532 1362.5 C532.6 1367.7 532 1375 531.2 1380 C530.5 1385 528.1 1390.4 527.5 1392.5"/>
<path d="M546.2 1311.2 L546.2 1343.8"/>
<path d="M610.5 1310 L610.5 1341.2"/>
<path d="M500 1371.2 L523.8 1368.8"/>
<path d="M583.8 1367.5 L612.5 1367.5"/>
<path d="M635 1367 L655 1365.5"/>
<path d="M640 1551.5 C638.3 1552.1 634.6 1552.1 630 1555 C625.4 1557.9 615.4 1566.5 612.5 1568.8"/>
<path d="M640 1586.8 C638.3 1587.5 632.9 1589.5 630 1591.2 C627.1 1593 623.8 1596.5 622.5 1597.5"/>
<path d="M612.5 1568.8 C611.2 1568.8 608.3 1567.5 605 1568.8 C601.7 1570 595.4 1574.4 592.5 1576.2 C589.6 1578.1 588.3 1579.4 587.5 1580"/>
<path d="M612.5 1568.8 C614 1570.6 619.4 1576.5 621.2 1580 C623.1 1583.5 623.5 1587.1 623.8 1590 C624 1592.9 625.6 1595.2 622.5 1597.5 C619.4 1599.8 608.8 1601.7 605 1603.8 C601.2 1605.8 602.1 1609 600 1610 C597.9 1611 593.8 1610 592.5 1610"/>
<path d="M587.5 1580 C586.2 1580.8 581.2 1582.9 580 1585 C578.8 1587.1 578.8 1590 580 1592.5 C581.2 1595 585.4 1597.1 587.5 1600 C589.6 1602.9 591.7 1608.3 592.5 1610" stroke-width="3"/>
<path d="M587.5 1580 C589.6 1581.2 596.9 1584.2 600 1587.5 C603.1 1590.8 605.4 1597.3 606.2 1600 C607.1 1602.7 605.2 1603.1 605 1603.8"/>
<path d="M597.5 1591.2 C596.2 1590.6 592.2 1587.5 590 1587.5 C587.8 1587.5 584.9 1589.4 584.5 1591.2 C584.1 1593.1 587 1597.5 587.5 1598.8"/>
<path d="M570 1607.5 L592.5 1596.2"/>
<g transform="translate(556 1616) rotate(-22) scale(1 1)">
<path d="M-23.7 -7 C-23.6 -8.2 -23.9 -11.8 -23.2 -14.1 C-22.4 -16.4 -21 -19.1 -19.1 -20.6 C-17.3 -22.2 -15.4 -22.3 -12.1 -23.2 C-8.7 -24 -3.9 -25.3 1 -25.7 C5.9 -26.1 13.3 -26.5 17.1 -25.7 C21 -24.8 23 -21.5 24.2 -20.6" stroke-width="3.2"/>
<path d="M-19.1 -9.1 C-18.6 -10.6 -17.5 -15.9 -16.1 -18.1 C-14.8 -20.3 -11.9 -21.5 -11.1 -22.2" stroke-width="3"/>
<path d="M-12.1 -9.1 C-11.6 -10.7 -10.4 -17 -9.1 -19.1 C-7.7 -21.3 -4.9 -21.7 -4 -22.2" stroke-width="3"/>
<path d="M-23.7 5 C-23.2 6.5 -22.6 11.6 -21.1 14.1 C-19.7 16.6 -17.6 18.8 -15.1 20.1 C-12.6 21.5 -8.4 22.5 -6 22.2 C-3.7 21.8 -1.8 18.8 -1 18.1" stroke-width="3"/>
<path d="M-11.1 5 C-10.1 7 -6.7 14.9 -5 17.1 C-3.4 19.3 -1.7 18 -1 18.1" stroke-width="2.6"/>
<path d="M-4 -21.1 C-2.9 -19.6 1.5 -15.3 3 -12.1 C4.5 -8.9 5 -5.7 5 -2 C5 1.7 4.2 6.5 3 10.1 C1.8 13.6 0 16.4 -2 19.1 C-4 21.8 -7.9 25 -9.1 26.2" stroke-width="3"/>
<path d="M4 -22.2 C4.9 -20.5 8.1 -15.8 9.1 -12.1 C10.1 -8.4 10.2 -3.7 10.1 0 C9.9 3.7 9.6 6.7 8.1 10.1 C6.5 13.4 2.2 18.5 1 20.1" stroke-width="3.4"/>
<path d="M11.1 -21.1 C11.7 -19.3 14.3 -13.8 15.1 -10.1 C15.9 -6.4 16.3 -3 16.1 1 C15.9 5 15.4 10.9 14.1 14.1 C12.8 17.3 10.2 18.8 8.1 20.1 C5.9 21.5 2.2 21.8 1 22.2" stroke-width="3.2"/>
<path d="M17.1 -25.2 L15.6 -17.1" stroke-width="2.6"/>
<path d="M-13.1 27.2 L-2 27.2 L0 22.2" stroke-width="3"/>
<path d="M-12.9 28.5 L-2.5 28.5" stroke-width="2.6"/>
</g>
<path d="M560 1655 L560 1690"/>
<text transform="translate(543.5 1728) scale(0.833 1)" font-size="44.4" clip-path="url(#k10)">10</text>
<path d="M527.5 1633.8 L555 1618.8"/>
<path d="M488.8 1632.5 C491.5 1630.6 500.6 1622.9 505 1621.2 C509.4 1619.6 511.2 1620.2 515 1622.5 C518.8 1624.8 525 1630.8 527.5 1635 C530 1639.2 530.4 1644.2 530 1647.5 C529.6 1650.8 528.8 1651.9 525 1655 C521.2 1658.1 510.4 1664.4 507.5 1666.2"/>
<path d="M488.8 1632.5 C490.2 1633.8 495 1636.2 497.5 1640 C500 1643.8 502.1 1650.6 503.8 1655 C505.4 1659.4 506.9 1664.4 507.5 1666.2"/>
<path d="M493.8 1629.5 C495.2 1630.8 500 1633.7 502.5 1637.5 C505 1641.3 507.2 1648.1 508.8 1652.5 C510.3 1656.9 511.5 1661.9 512 1663.8"/>
<path d="M488.8 1632.5 C486.9 1632.7 481.5 1632.5 477.5 1633.8 C473.5 1635 468.8 1637.9 465 1640 C461.2 1642.1 456.7 1645.2 455 1646.2"/>
<path d="M507.5 1666.2 C506.9 1667.3 507.5 1669.4 503.8 1672.5 C500 1675.6 489.8 1682.2 485 1685 C480.2 1687.8 478.3 1689.3 475 1689.5 C471.7 1689.7 467.5 1687.8 465 1686.2 C462.5 1684.7 460.8 1681 460 1680"/>
<path d="M455 1646.2 C454.4 1647.7 451.7 1651.5 451.2 1655 C450.8 1658.5 452.3 1665.4 452.5 1667.5" stroke-width="3"/>
<path d="M472.5 1657.5 C470.8 1656.7 465.4 1652.5 462.5 1652.5 C459.6 1652.5 456.2 1655 455 1657.5 C453.8 1660 453.8 1665.4 455 1667.5 C456.2 1669.6 461.2 1669.6 462.5 1670"/>
<path d="M460 1680 C461 1680.6 463.5 1684.2 466.2 1683.8 C469 1683.3 474.6 1678.5 476.2 1677.5" stroke-width="3"/>
<path d="M455 1646.2 C458.5 1648.5 471.7 1656 476.2 1660 C480.8 1664 481.2 1665.8 482.5 1670 C483.8 1674.2 483.5 1682.5 483.8 1685"/>
<path d="M450 1677.5 L468.8 1667.5"/>
<path d="M500.8 1685 L500.8 1717.5"/>
<text transform="translate(486 1751.5) scale(0.833 1)" font-size="44.4" clip-path="url(#k15)">15</text>
<g transform="translate(429 1690) rotate(-22) scale(1.150 1.150)">
<path d="M-23.7 -7 C-23.6 -8.2 -23.9 -11.8 -23.2 -14.1 C-22.4 -16.4 -21 -19.1 -19.1 -20.6 C-17.3 -22.2 -15.4 -22.3 -12.1 -23.2 C-8.7 -24 -3.9 -25.3 1 -25.7 C5.9 -26.1 13.3 -26.5 17.1 -25.7 C21 -24.8 23 -21.5 24.2 -20.6" stroke-width="3.2"/>
<path d="M-19.1 -9.1 C-18.6 -10.6 -17.5 -15.9 -16.1 -18.1 C-14.8 -20.3 -11.9 -21.5 -11.1 -22.2" stroke-width="3"/>
<path d="M-12.1 -9.1 C-11.6 -10.7 -10.4 -17 -9.1 -19.1 C-7.7 -21.3 -4.9 -21.7 -4 -22.2" stroke-width="3"/>
<path d="M-23.7 5 C-23.2 6.5 -22.6 11.6 -21.1 14.1 C-19.7 16.6 -17.6 18.8 -15.1 20.1 C-12.6 21.5 -8.4 22.5 -6 22.2 C-3.7 21.8 -1.8 18.8 -1 18.1" stroke-width="3"/>
<path d="M-11.1 5 C-10.1 7 -6.7 14.9 -5 17.1 C-3.4 19.3 -1.7 18 -1 18.1" stroke-width="2.6"/>
<path d="M-4 -21.1 C-2.9 -19.6 1.5 -15.3 3 -12.1 C4.5 -8.9 5 -5.7 5 -2 C5 1.7 4.2 6.5 3 10.1 C1.8 13.6 0 16.4 -2 19.1 C-4 21.8 -7.9 25 -9.1 26.2" stroke-width="3"/>
<path d="M4 -22.2 C4.9 -20.5 8.1 -15.8 9.1 -12.1 C10.1 -8.4 10.2 -3.7 10.1 0 C9.9 3.7 9.6 6.7 8.1 10.1 C6.5 13.4 2.2 18.5 1 20.1" stroke-width="3.4"/>
<path d="M11.1 -21.1 C11.7 -19.3 14.3 -13.8 15.1 -10.1 C15.9 -6.4 16.3 -3 16.1 1 C15.9 5 15.4 10.9 14.1 14.1 C12.8 17.3 10.2 18.8 8.1 20.1 C5.9 21.5 2.2 21.8 1 22.2" stroke-width="3.2"/>
<path d="M17.1 -25.2 L15.6 -17.1" stroke-width="2.6"/>
<path d="M-13.1 27.2 L-2 27.2 L0 22.2" stroke-width="3"/>
<path d="M-12.9 28.5 L-2.5 28.5" stroke-width="2.6"/>
</g>
<path d="M425.8 1727.5 L425.8 1750"/>
<text transform="translate(404 1786) scale(0.833 1)" font-size="44.4" clip-path="url(#k14)">14</text>
<text transform="translate(478.5 1301.5) scale(0.833 1)" font-size="44.4" clip-path="url(#k10)">10</text>
<text transform="translate(541 1298) scale(0.833 1)" font-size="44.4">9</text>
<text transform="translate(597 1298) scale(0.833 1)" font-size="44.4" clip-path="url(#k10)">10</text>
<text transform="translate(1049 1795.5) scale(0.833 1)" font-size="44.4" clip-path="url(#k50131)">50131</text>
<path d="M147.5 700 C147.5 696.9 148.8 692.3 152.5 690 C156.2 687.7 164.2 686 170 686.2 C175.8 686.5 183.8 689 187.5 691.2 C191.2 693.5 192.9 697.1 192.5 700 C192.1 702.9 189.2 706.7 185 708.8 C180.8 710.8 172.9 712.5 167.5 712.5 C162.1 712.5 155.8 710.8 152.5 708.8 C149.2 706.7 147.5 703.1 147.5 700Z"/>
<path d="M162.5 692.5 L163.8 707.5 L176.2 707.5 L177.5 692.5 L170 690 L162.5 692.5"/>
<path d="M167.5 690 L167.5 677.5 L170 670 L173 677.5 L173 690"/>
<path d="M150 688.8 L160 683.8"/>
<path d="M152.5 702.5 L162.5 697.5"/>
<path d="M95 718.8 L132.5 700"/>
<path d="M125 745 L160 726.2"/>
<path d="M62.5 745 L82.5 735"/>
<path d="M62.5 745 L65 755 L90 765 L115 742.5 L107.5 735 L97.5 736.2"/>
<path d="M82.5 735 L83.8 750 L100 751.2 L100 737.5 L91.2 732.5 L82.5 735"/>
<path d="M87.5 733.8 L87.5 718.8 L91.2 713.8 L94.5 718.8 L94.5 733.8"/>
<path d="M63.8 737.5 C63.3 736 65.6 730.6 67.5 728.8 C69.4 726.9 73.3 725.6 75 726.2 C76.7 726.9 78.3 730.6 77.5 732.5 C76.7 734.4 72.3 736.7 70 737.5 C67.7 738.3 64.2 739 63.8 737.5Z"/>
<path d="M38.8 767.5 C39.6 765.4 42.1 758.1 43.8 755 C45.4 751.9 47.9 749.8 48.8 748.8"/>
<path d="M97.5 762.5 L107.5 752.5"/>
<path d="M97.5 765 L130 785"/>
<path d="M112.5 750 L140 775"/>
<path d="M117.5 785 L132.5 795"/>
<path d="M42.5 795 C42.5 789.2 44.6 785.8 47.5 782.5 C50.4 779.2 55.6 775.5 60 775.5 C64.4 775.5 69.8 778 73.8 782.5 C77.7 787 81.7 795.4 83.8 802.5 C85.8 809.6 86.9 819.2 86.2 825 C85.6 830.8 82.7 834.8 80 837.5 C77.3 840.2 73.8 842.1 70 841.2 C66.2 840.4 61.2 836.5 57.5 832.5 C53.8 828.5 50 823.8 47.5 817.5 C45 811.2 42.5 800.8 42.5 795Z" stroke-width="3"/>
<path d="M51.2 776.2 C54 775.7 62.5 771.5 67.5 773 C72.5 774.5 77.9 779.7 81.2 785 C84.6 790.3 86.5 801.7 87.5 805"/>
<path d="M53.8 790 C54.4 792.9 55.2 802.1 57.5 807.5 C59.8 812.9 65.8 820 67.5 822.5"/>
<path d="M72.5 792.5 C73.8 795.4 78.5 804.2 80 810 C81.5 815.8 81 824.6 81.2 827.5"/>
<path d="M45 802.5 C46 805.8 48.1 816.7 51.2 822.5 C54.4 828.3 60 834.6 63.8 837.5 C67.5 840.4 72.1 839.6 73.8 840"/>
<path d="M30 770 L37.5 770 L38.8 780"/>
<path d="M30 770 L30 792.5 L37.5 795"/>
<path d="M30 805 L35 812.5 L30 820 L37.5 822.5 L35 830 L27.5 832.5 L30 842.5"/>
<path d="M86.2 827.5 L102.5 830 L137.5 832.5"/>
<path d="M86.2 822.5 L97.5 825.5"/>
<path d="M95 807.5 C96.7 809.2 99.2 814.8 105 817.5 C110.8 820.2 125.8 822.7 130 823.8"/>
<path d="M100 828.8 L137.5 837.5"/>
<path d="M97.5 835 L135 842.5"/>
<path d="M137.5 800 L157.5 791.2"/>
<path d="M135 805 L140 820"/>
<path d="M150 812.5 L170 803.8"/>
<path d="M158.8 763.8 L170 756.2 L180 756.2"/>
<path d="M158.8 763.8 L162.5 780 L170 777.5 L200 777.5"/>
<path d="M167.5 782.5 L170 795 L172.5 820"/>
<path d="M170 817.5 L155 822.5 L150 817.5 L167.5 810"/>
<path d="M160 815 L170 813.8"/>
<path d="M170 827.5 L177.5 823.8 L181.2 832.5 L176.2 843.8 L167.5 845 L165 835 L170 827.5" stroke-width="3"/>
<path d="M175 835 C175 835.8 174.6 836.8 174 837.3 C173.5 837.8 172.5 838.2 171.8 838.2 C171 838.2 170 837.8 169.5 837.3 C168.9 836.8 168.5 835.8 168.5 835 C168.5 834.2 168.9 833.2 169.5 832.7 C170 832.2 171 831.8 171.8 831.8 C172.5 831.8 173.5 832.2 174 832.7 C174.6 833.2 175 834.2 175 835Z"/>
<path d="M136.2 845 L142.5 842.5 L146.2 850 L140 860 L132.5 860 L131.2 851.2 L136.2 845" stroke-width="3"/>
<path d="M141 852.5 C141 853.2 140.6 854.1 140.1 854.6 C139.6 855.1 138.7 855.5 138 855.5 C137.3 855.5 136.4 855.1 135.9 854.6 C135.4 854.1 135 853.2 135 852.5 C135 851.8 135.4 850.9 135.9 850.4 C136.4 849.9 137.3 849.5 138 849.5 C138.7 849.5 139.6 849.9 140.1 850.4 C140.6 850.9 141 851.8 141 852.5Z"/>
<path d="M138.8 843.8 L167.5 830"/>
<path d="M145 853.8 L170 838.8"/>
<path d="M170 845 L155 892.5"/>
<path d="M173.8 846.2 L160 892.5"/>
<path d="M140 861.2 L147.5 897.5"/>
<path d="M130 861.2 L125 870"/>
<path d="M145 900 L151.2 898.8 L152.5 907.5 L146.2 908.8 L145 900" stroke-width="3"/>
<path d="M127.5 902.5 L150 913.8 L150 900"/>
<path d="M123.8 902.5 L130 925"/>
<path d="M120 872.5 L127.5 875 L130 870"/>
<path d="M175 867.5 L182.5 870 L180 875 L173.8 872.5 L175 867.5"/>
<path d="M167.5 882.5 L171.2 880 L173 885 L168.8 887.5 L167.5 882.5"/>
<path d="M155 910 C155.8 908.8 157.5 904 160 902.5 C162.5 901 166.2 900.4 170 901.2 C173.8 902.1 180 904.4 182.5 907.5 C185 910.6 184.6 917.9 185 920"/>
<path d="M155 910 C155.2 911.7 154.8 917.3 156.2 920 C157.7 922.7 161 925.2 163.8 926.2 C166.5 927.3 171 926.2 172.5 926.2"/>
<path d="M163.8 912.5 C165 909.6 169.6 906.7 172.5 906.2 C175.4 905.8 179.6 907.7 181.2 910 C182.9 912.3 183.8 917.3 182.5 920 C181.2 922.7 176.7 925.6 173.8 926.2 C170.8 926.9 166.7 926 165 923.8 C163.3 921.5 162.5 915.4 163.8 912.5Z"/>
<path d="M170 912.5 L170 923.8"/>
<path d="M37.5 872.5 C38.2 873.4 39.5 876.8 45 881.2 C50.5 885.8 84.2 911.4 92.5 917.5 C100.8 923.6 122.5 939.8 127.5 942.5 C132.5 945.2 139.2 945.5 142.5 945 C145.8 944.5 154.8 939.8 160 937.5 C165.2 935.2 188.2 924.6 195 922.5 C201.8 920.4 223.2 918 227.5 916.2 C231.8 914.5 236.2 907.1 237.5 905 C238.8 902.9 239.8 896 240 895"/>
<path d="M40 885 C45 888.5 81 913.8 90 920 C99 926.2 124.5 944.2 130 947.5 C135.5 950.8 138.5 954.2 145 952.5 C151.5 950.8 186.2 933.2 195 930 C203.8 926.8 228.8 921 232.5 920"/>
<path d="M92.5 917.5 L120 935.5" stroke-width="4"/>
<path d="M38.8 850 L40 872.5"/>
<path d="M38.8 850 L52.5 862.5 L82.5 861.2 L82.5 842.5"/>
<path d="M73.8 855 C72.3 854.6 67.5 852.3 65 852.5 C62.5 852.7 59.6 854 58.8 856.2 C57.9 858.5 58.5 862.9 60 866.2 C61.5 869.6 64.8 874.2 67.5 876.2 C70.2 878.3 74.8 878.3 76.2 878.8"/>
<path d="M68.2 886.2 C68.2 887 67.8 888 67.3 888.5 C66.8 889.1 65.8 889.5 65 889.5 C64.2 889.5 63.2 889.1 62.7 888.5 C62.2 888 61.8 887 61.8 886.2 C61.8 885.5 62.2 884.5 62.7 884 C63.2 883.4 64.2 883 65 883 C65.8 883 66.8 883.4 67.3 884 C67.8 884.5 68.2 885.5 68.2 886.2Z"/>
<path d="M57.5 880 L62.5 893.8"/>
<path d="M82.5 840 L81.2 860 L85 902.5"/>
<path d="M85 902.5 L122.5 920"/>
<path d="M86.2 892.5 L120 907.5"/>
<path d="M90 872.5 L120 890"/>
<path d="M102.5 842.5 L130 855"/>
<path d="M52.5 901.2 L57.5 902.5 L58.8 912.5 L53.8 915 L51.2 907.5 L52.5 901.2"/>
<path d="M40 895 L50 902.5 L52.5 917.5 L60 916.2"/>
<path d="M140 932.5 L160 927.5"/>
<path d="M30 911.2 L40 907.5 L41.2 912.5"/>
<path d="M30 911.2 L30 927.5 L36.2 932.5 L30 935 L30 947.5 L43.8 955 L43.8 965"/>
<path d="M51.2 943.8 L57.5 945 L58.8 950"/>
<path d="M133.8 975 L138.8 977.5 L140 982.5"/>
<path d="M143.8 947.5 L140 965 L160 985 L172.5 995 L185 1020 L195 1040"/>
<path d="M142.5 970 L170 995"/>
<path d="M160 965 C161.7 962.3 167.5 957.1 170 956.2 C172.5 955.4 174.6 957.7 175 960 C175.4 962.3 174.2 967.3 172.5 970 C170.8 972.7 167.1 975.8 165 976.2 C162.9 976.7 160.8 974.4 160 972.5 C159.2 970.6 158.3 967.7 160 965Z"/>
<path d="M163.8 967.5 C164.2 968.5 165.2 973.3 166.2 973.8 C167.3 974.2 169.4 970.6 170 970"/>
<path d="M152.5 953.8 L180 942.5 L220 930"/>
<path d="M205 937.5 L205 977.5"/>
<path d="M227.5 920 L227.5 965"/>
<path d="M175 992.5 L195 985 L220 981.2"/>
<path d="M242.5 970 L270 957.5 L290 942.5"/>
<path d="M242.5 972.5 L280 995 L290 987.5 L291.2 945"/>
<path d="M248.8 977.5 L285 952.5"/>
<path d="M297.5 942.5 L302.5 955 L315 957.5 L318 945"/>
<path d="M302.5 945 L312.5 942.5"/>
<path d="M280 995 C282.1 993.3 288.8 986.9 292.5 985 C296.2 983.1 299.6 982.9 302.5 983.8 C305.4 984.6 308.3 986.9 310 990 C311.7 993.1 313.3 999.2 312.5 1002.5 C311.7 1005.8 306.2 1008.8 305 1010"/>
<path d="M302.5 983.8 C303.3 985.6 307.1 990.6 307.5 995 C307.9 999.4 305.4 1007.5 305 1010"/>
<path d="M295 1017.5 L297.5 1030 L302.5 1040"/>
<path d="M318 1052.5 L305 1060"/>
<path d="M25 985 L32.5 980"/>
<path d="M443 515 L451.8 515 L451.8 518.8 L443 518.8 L443 515" stroke-width="4"/>
<path d="M443.8 518.8 L443.8 535"/>
<path d="M451 518.8 L451 535"/>
<path d="M438 536.2 L439.2 552.5 L443 556.2 L453 555.5 L455.5 550 L455.5 537.5 L448 533.8 L438 536.2"/>
<path d="M440.5 542.5 L455.5 543.8"/>
<path d="M398 547.5 L418 533.8 L428 535 L438 532.5"/>
<path d="M455.5 533.8 L463 536.2 L473 545 L485.5 543.8 L501.8 573.8"/>
<path d="M421.8 546.2 L428 552.5 L438 553.8"/>
<path d="M455.5 555 L468 550 L475.5 543.8"/>
<path d="M393 940 L403 950"/>
<path d="M388 947.5 L393 942.5"/>
<path d="M318 940 L330.5 942.5 L335.5 950"/>
<path d="M57.5 1135 C60 1132.9 68.8 1123.8 72.5 1122.5 C76.2 1121.2 76.7 1124.2 80 1127.5 C83.3 1130.8 90 1137.9 92.5 1142.5 C95 1147.1 95.8 1151.7 95 1155 C94.2 1158.3 90.8 1160.8 87.5 1162.5 C84.2 1164.2 77.9 1165.4 75 1165 C72.1 1164.6 70.8 1160.8 70 1160"/>
<path d="M65 1116.2 C67.9 1115 78.3 1109.2 82.5 1108.8 C86.7 1108.3 87.1 1110.2 90 1113.8 C92.9 1117.3 97.1 1125.6 100 1130 C102.9 1134.4 105.8 1137.1 107.5 1140 C109.2 1142.9 111.2 1144.6 110 1147.5 C108.8 1150.4 103.8 1154.6 100 1157.5 C96.2 1160.4 89.6 1163.8 87.5 1165"/>
<path d="M41.2 1155 C40.6 1152.5 41 1149.4 42.5 1147.5 C44 1145.6 47.5 1143.8 50 1143.8 C52.5 1143.8 55.8 1145.2 57.5 1147.5 C59.2 1149.8 60.4 1154.8 60 1157.5 C59.6 1160.2 57.3 1162.9 55 1163.8 C52.7 1164.6 48.5 1164 46.2 1162.5 C44 1161 41.9 1157.5 41.2 1155Z"/>
<path d="M50 1143.8 L70 1135 L75 1140 L75 1152.5 L60 1157.5"/>
<path d="M75 1145 L92.5 1146.2"/>
<path d="M33.8 1157.5 C33.9 1159.2 33.7 1169.3 35 1172.5 C36.3 1175.7 42.1 1182.4 45 1185 C47.9 1187.6 55 1192.4 60 1195 C65 1197.6 81.7 1204.6 87.5 1207.5 C93.3 1210.4 103.3 1218 110 1220 C116.7 1222 140.9 1224.4 145 1225"/>
<path d="M37.5 1157.5 C39.6 1160.8 44.6 1172.1 50 1177.5 C55.4 1182.9 63.8 1187.5 70 1190 C76.2 1192.5 84.6 1192.1 87.5 1192.5"/>
<path d="M37.5 1172.5 L50 1182.5"/>
<path d="M22.5 1116.2 L35 1152.5"/>
<path d="M112.5 1212.5 L125 1205"/>
<path d="M115 1216.2 L132.5 1218.8"/>
<path d="M105 1182.5 L120 1175"/>
<path d="M105 1188.8 L122.5 1180"/>
<path d="M136.2 1146.2 C135.2 1145.8 132.7 1143.5 130 1143.8 C127.3 1144 122.1 1144.8 120 1147.5 C117.9 1150.2 116.7 1156.2 117.5 1160 C118.3 1163.8 122.1 1168.8 125 1170 C127.9 1171.2 133.3 1167.9 135 1167.5"/>
<path d="M141.2 1142.5 C141.5 1140.6 143.3 1138.1 145 1137.5 C146.7 1136.9 149.8 1137.3 151.2 1138.8 C152.7 1140.2 154 1144.4 153.8 1146.2 C153.5 1148.1 151.7 1149.6 150 1150 C148.3 1150.4 145.2 1150 143.8 1148.8 C142.3 1147.5 141 1144.4 141.2 1142.5Z" stroke-width="3"/>
<path d="M145 1137.5 L160 1128.8 L165 1127.5"/>
<path d="M150 1150 L160 1146.2"/>
<path d="M160 1127.5 C161.7 1127.9 167.9 1127.9 170 1130 C172.1 1132.1 172.1 1134.2 172.5 1140 C172.9 1145.8 172.5 1160.8 172.5 1165"/>
<path d="M165 1147.5 L165 1185 L170 1212.5 L167.5 1222.5"/>
<path d="M127.5 1182.5 C127.3 1180.2 129.6 1177.3 131.2 1176.2 C132.9 1175.2 135.8 1175.2 137.5 1176.2 C139.2 1177.3 141 1180.4 141.2 1182.5 C141.5 1184.6 140.2 1187.5 138.8 1188.8 C137.3 1190 134.4 1191 132.5 1190 C130.6 1189 127.7 1184.8 127.5 1182.5Z" stroke-width="3"/>
<path d="M137.5 1176.2 C139.6 1174.6 146.7 1167.7 150 1166.2 C153.3 1164.8 156 1165.8 157.5 1167.5 C159 1169.2 160 1173.8 158.8 1176.2 C157.5 1178.8 152.9 1181 150 1182.5 C147.1 1184 142.7 1184.6 141.2 1185"/>
<path d="M147.5 1157.5 L150 1163.8"/>
<path d="M138.5 1180.5 C138.5 1181 138.2 1181.7 137.8 1182.1 C137.5 1182.5 136.8 1182.8 136.2 1182.8 C135.7 1182.8 135 1182.5 134.7 1182.1 C134.3 1181.7 134 1181 134 1180.5 C134 1180 134.3 1179.3 134.7 1178.9 C135 1178.5 135.7 1178.2 136.2 1178.2 C136.8 1178.2 137.5 1178.5 137.8 1178.9 C138.2 1179.3 138.5 1180 138.5 1180.5Z"/>
<path d="M135 1207.5 C134.8 1205.2 136.9 1201.7 138.8 1200 C140.6 1198.3 144 1197.1 146.2 1197.5 C148.5 1197.9 151.2 1200.4 152.5 1202.5 C153.8 1204.6 154.6 1207.9 153.8 1210 C152.9 1212.1 149.8 1214.4 147.5 1215 C145.2 1215.6 142.1 1215 140 1213.8 C137.9 1212.5 135.2 1209.8 135 1207.5Z" stroke-width="3"/>
<path d="M149 1207 C149 1207.8 148.6 1208.9 148 1209.5 C147.4 1210.1 146.3 1210.5 145.5 1210.5 C144.7 1210.5 143.6 1210.1 143 1209.5 C142.4 1208.9 142 1207.8 142 1207 C142 1206.2 142.4 1205.1 143 1204.5 C143.6 1203.9 144.7 1203.5 145.5 1203.5 C146.3 1203.5 147.4 1203.9 148 1204.5 C148.6 1205.1 149 1206.2 149 1207Z"/>
<path d="M170 1175 L170 1192.5 L185 1197.5 L190 1185 L192.5 1180"/>
<path d="M177.5 1172.5 L192.5 1177.5 L195 1187.5 L190 1196.2"/>
<path d="M170 1195 L175 1220 L180 1212.5 L195 1223.8 L192.5 1215 L207.5 1210"/>
<path d="M162.5 1210 L167.5 1222.5 L172.5 1225 L172.5 1210"/>
<path d="M175 1202.5 L225 1177.5 L270 1157.5 L298 1146.2"/>
<path d="M177.5 1207.5 L200 1197.5"/>
<path d="M202.5 1201.2 L240 1185 L298 1160"/>
<path d="M200 1200 L205 1210 L207.5 1215"/>
<path d="M285 1160 L298 1155"/>
<path d="M220 1155 C220.4 1153.5 220.8 1148.5 222.5 1146.2 C224.2 1144 226.9 1141.9 230 1141.2 C233.1 1140.6 238.3 1141 241.2 1142.5 C244.2 1144 246.7 1147.3 247.5 1150 C248.3 1152.7 247.5 1156.7 246.2 1158.8 C245 1160.8 241 1161.9 240 1162.5"/>
<path d="M232.5 1160 C233.1 1158.8 234.4 1154 236.2 1152.5 C238.1 1151 241.9 1150.6 243.8 1151.2 C245.6 1151.9 246.9 1155.4 247.5 1156.2"/>
<path d="M228.8 1165 L231.2 1175 L236.2 1180"/>
<path d="M233.8 1160 L240 1177.5 L252.5 1172.5"/>
<path d="M247.5 1165 L257.5 1163.8"/>
<path d="M192.5 1160 L205 1120"/>
<path d="M197.5 1162.5 L208.8 1122.5"/>
<path d="M45 1185 C45.1 1189.4 46 1213.8 46.2 1222.5 C46.5 1231.2 46.8 1253.3 47.5 1260 C48.2 1266.7 50.8 1275.9 52.5 1280 C54.2 1284.1 59.9 1292.1 62.5 1295 C65.1 1297.9 72.2 1303.2 75 1305 C77.8 1306.8 84.9 1309.4 86.2 1310"/>
<path d="M53.8 1190 L55 1232.5"/>
<path d="M90 1212.5 C89.8 1220.4 89.6 1244.2 88.8 1260 C87.9 1275.8 85.6 1299.6 85 1307.5"/>
<path d="M102.5 1220 L103.8 1260"/>
<path d="M100 1281.2 L101.2 1290" stroke-width="4"/>
<path d="M105 1311.2 C107.5 1311.5 112.9 1312.1 120 1312.5 C127.1 1312.9 142.9 1313.5 147.5 1313.8"/>
<path d="M168.8 1313.8 L212.5 1311.2"/>
<path d="M230 1310 L237.5 1313.8 L250 1308.8"/>
<path d="M235 1187.5 L236.2 1232.5"/>
<path d="M241.2 1190 L243.8 1220"/>
<path d="M257.5 1182.5 L257.5 1222.5"/>
<path d="M237.5 1250 L237.5 1290"/>
<path d="M246.2 1252.5 L248.8 1310"/>
<path d="M257.5 1242.5 L257.5 1255 L250 1285 L255 1295 L275 1287.5"/>
<path d="M250 1280 L253.8 1282.5"/>
<path d="M290 1277.5 L298 1273.8"/>
<path d="M56.2 1257.5 L60 1252.5 L70 1252.5 L75 1260 L72.5 1270 L65 1272.5 L58.8 1267.5 L56.2 1257.5" stroke-width="3"/>
<path d="M61.2 1260 L67.5 1257.5 L71.2 1263.8 L66.2 1267.5 L61.2 1260" stroke-width="3"/>
<path d="M65 1285 L71.2 1282.5 L77.5 1290 L76.2 1296.2 L70 1296.2 L65 1285" stroke-width="3"/>
<path d="M70 1286.2 L73.8 1293.8"/>
<path d="M298 950 L303 945 L313 947.5 L314.2 957.5 L308 962.5 L300.5 960" stroke-width="3"/>
<path d="M318 947.5 L328 943.8 L336.8 948.8 L335.5 960 L325.5 963.8 L319.2 958.8 L318 947.5" stroke-width="3"/>
<path d="M303 945 L304.2 955 L314.2 957.5"/>
<path d="M328 943.8 L327.5 955 L335.5 960"/>
<path d="M363 940 L365.5 950 L395.5 947.5 L394.2 940"/>
<path d="M378 942.5 L380.5 940"/>
<path d="M310.5 987.5 L360.5 965 L394.2 952.5"/>
<path d="M298 1006.2 L325.5 993.8"/>
<path d="M348 1013.8 L385.5 992.5 L386.8 1057.5"/>
<path d="M373 990 L378 987.5"/>
<path d="M298 1013.8 L321.8 1005.5"/>
<path d="M321.8 1005.5 C323.2 1005.2 327.6 1002.4 330.5 1003.8 C333.4 1005.1 336.5 1009.8 339.2 1013.8 C342 1017.7 345.9 1023.5 346.8 1027.5 C347.6 1031.5 344.7 1035.8 344.2 1037.5" stroke-width="3"/>
<path d="M325.5 1005.5 C327.2 1007.3 332.8 1012.2 335.5 1016.2 C338.2 1020.3 340.9 1026.2 341.8 1030 C342.6 1033.8 340.7 1037.3 340.5 1038.8"/>
<path d="M344.2 1037.5 L303 1061.2"/>
<path d="M298 1022.5 C298.8 1024.8 302.6 1033.3 303 1036.2 C303.4 1039.2 300.9 1039.4 300.5 1040"/>
<path d="M303 986.2 C303.8 987.5 307 991.7 308 993.8 C309 995.8 309 997.9 309.2 998.8"/>
<path d="M375.5 1003.8 L383 1025"/>
<path d="M391.8 1018.8 C392.8 1021.5 395.7 1028.5 398 1035 C400.3 1041.5 405.1 1052.5 405.5 1057.5 C405.9 1062.5 401.3 1063.8 400.5 1065"/>
<path d="M393 1032.5 C393.2 1035.4 393.6 1045.8 394.2 1050 C394.9 1054.2 396.3 1056.2 396.8 1057.5"/>
<path d="M381.8 1062.5 C380.5 1062.3 376.1 1060.4 374.2 1061.2 C372.4 1062.1 370.7 1064.4 370.5 1067.5 C370.3 1070.6 371.1 1077.1 373 1080 C374.9 1082.9 380.3 1084.2 381.8 1085"/>
<path d="M375.5 1077.5 L381.8 1078.8"/>
<path d="M400.5 1065 C399.7 1065.8 396.3 1067.5 395.5 1070 C394.7 1072.5 394.7 1077.1 395.5 1080 C396.3 1082.9 398.4 1085.8 400.5 1087.5 C402.6 1089.2 406.8 1089.6 408 1090"/>
<path d="M420.5 1067.5 C421.1 1068.8 423.8 1072.1 424.2 1075 C424.7 1077.9 424 1082.5 423 1085 C422 1087.5 418.8 1089.2 418 1090"/>
<path d="M398 1095 L403 1100 L408 1102.5"/>
<path d="M398 1100 L401.8 1093.8"/>
<path d="M426.8 1082.5 L463 1067.5 L470.5 1057.5"/>
<path d="M449.2 1041.2 L460.5 1036.2 L468 1038.8 L473 1036.2"/>
<path d="M449.2 1041.2 L454.2 1045 L470.5 1041.2"/>
<path d="M463 1036.2 C463.4 1035.2 463.8 1031.7 465.5 1030 C467.2 1028.3 470.1 1026.7 473 1026.2 C475.9 1025.8 480.1 1025.8 483 1027.5 C485.9 1029.2 489 1032.9 490.5 1036.2 C492 1039.6 492.2 1044.2 491.8 1047.5 C491.3 1050.8 490.3 1054.4 488 1056.2 C485.7 1058.1 480.9 1059 478 1058.8 C475.1 1058.5 472.2 1056.9 470.5 1055 C468.8 1053.1 468.4 1048.8 468 1047.5"/>
<path d="M476.8 1045 C477.2 1044 477.8 1039.8 479.2 1038.8 C480.7 1037.7 484 1037.7 485.5 1038.8 C487 1039.8 488 1042.7 488 1045 C488 1047.3 486.8 1051.2 485.5 1052.5 C484.2 1053.8 481.3 1052.5 480.5 1052.5" stroke-width="3"/>
<path d="M480.5 1060 L480.5 1070 L484.2 1070 L484.2 1060"/>
<path d="M463 1047.5 L470.5 1057.5"/>
<path d="M405.5 940 C405.1 942.5 402.6 949.6 403 955 C403.4 960.4 406.5 968.3 408 972.5 C409.5 976.7 411.1 978.8 411.8 980"/>
<path d="M398 957.5 L405.5 958.8"/>
<path d="M451.8 1000 C455.3 1000.8 465.3 1003.5 473 1005 C480.7 1006.5 488.8 1006.2 498 1008.8 C507.2 1011.2 519.7 1016.9 528 1020 C536.3 1023.1 544.7 1026.2 548 1027.5"/>
<path d="M453 1007.5 C457.2 1008.5 468.4 1012.1 478 1013.8 C487.6 1015.4 498.8 1014 510.5 1017.5 C522.2 1021 541.8 1032.1 548 1035"/>
<path d="M515.5 1025 L515.5 1040 L548 1052.5"/>
<path d="M513 1038.8 L545.5 1035"/>
<path d="M530.5 1050 C529.2 1049.6 525.1 1047.1 523 1047.5 C520.9 1047.9 518.2 1050.8 518 1052.5 C517.8 1054.2 519.7 1057.1 521.8 1057.5 C523.8 1057.9 529 1055.4 530.5 1055"/>
<path d="M555.5 965 C555.5 973 555 1035.5 555.5 1045 C556 1054.5 559.2 1058.2 560.5 1060 C561.8 1061.8 566.2 1063.2 568 1062.5 C569.8 1061.8 576.8 1054.2 578 1052.5 C579.2 1050.8 580.8 1046.8 580.5 1045 C580.2 1043.2 576 1036 575.5 1035"/>
<path d="M476.8 1082.5 L508 1068.8 L545.5 1061.2"/>
<path d="M483 1085 L505.5 1075 L513 1072.5"/>
<path d="M518 1081.2 L544.2 1070"/>
<path d="M533 1070 L545.5 1070"/>
<path d="M420.5 1110 L458 1092.5 L498 1076.2"/>
<path d="M395.5 1118.8 L408 1113.8"/>
<path d="M423 1115 L470.5 1096.2"/>
<path d="M473 1105 L483 1097.5 L498 1091.2"/>
<path d="M449.2 1102.5 L453 1140 L450.5 1187.5 L455.5 1192.5 L465.5 1187.5 L468 1165"/>
<path d="M458 1100 L464.2 1130 L460.5 1187.5"/>
<path d="M470.5 1096.2 L470.5 1147.5 L468 1148.8"/>
<path d="M463 1160 L463 1185"/>
<path d="M298 1150 C302.2 1148.3 314.7 1142.9 323 1140 C331.3 1137.1 338.4 1135 348 1132.5 C357.6 1130 375.1 1126.2 380.5 1125"/>
<path d="M298 1155 C301.8 1153.8 308.4 1150.4 320.5 1147.5 C332.6 1144.6 362.2 1139.2 370.5 1137.5"/>
<path d="M315.5 1157.5 L348 1147.5"/>
<path d="M330.5 1127.5 C335.5 1126.2 352.6 1122.9 360.5 1120 C368.4 1117.1 375.1 1111.7 378 1110"/>
<path d="M304.2 1112.5 C304.2 1109.2 306.1 1102.7 308 1100 C309.9 1097.3 312.6 1096.2 315.5 1096.2 C318.4 1096.2 322.8 1097.9 325.5 1100 C328.2 1102.1 330.9 1106.2 331.8 1108.8 C332.6 1111.2 332 1113.3 330.5 1115 C329 1116.7 325.9 1118.5 323 1118.8 C320.1 1119 315.5 1116 313 1116.2 C310.5 1116.5 309.5 1120.6 308 1120 C306.5 1119.4 304.2 1115.8 304.2 1112.5Z"/>
<path d="M329.2 1110 C328.2 1109.6 324.7 1107.1 323 1107.5 C321.3 1107.9 319.5 1110.4 319.2 1112.5 C319 1114.6 321.3 1118.8 321.8 1120"/>
<path d="M310.5 1121.2 L313 1137.5 L323 1147.5"/>
<path d="M321.8 1122.5 L325.5 1140 L329.2 1137.5 L325.5 1121.2"/>
<path d="M298 1070 L308 1087.5 L313 1097.5"/>
<path d="M303 1085 L309.2 1096.2"/>
<path d="M353 1142.5 L358 1155 L365.5 1147.5 L368 1138.8"/>
<path d="M351.8 1145 L359.2 1147.5"/>
<path d="M378 1135 L379.2 1190 L381.8 1222.5"/>
<path d="M394.2 1125 L400.5 1125 L399.2 1210"/>
<path d="M394.2 1126.2 L394.2 1210 L398 1212.5 L398 1217.5 L390.5 1221.2"/>
<path d="M393 1211.2 L408 1211.2"/>
<path d="M298 1272.5 L328 1257.5"/>
<path d="M344.2 1247.5 L383 1225 L388 1225"/>
<path d="M420.5 1203.8 L450.5 1187.5"/>
<path d="M434.2 1215 L438 1215"/>
<path d="M455 685 L457.5 680 L467.5 677.5 L470 673.8 L472.5 675 L476.2 690 L480 696.2 L486.2 696.2 L487.5 685 L492.5 680 L505 677.5 L506.2 673.8 L502.5 670 L495 668.8 L491.2 671.2 L490 675 L473.8 676.2" stroke-width="3"/>
<path d="M510 670 L537.5 657.5 L542.5 655"/>
<path d="M508.8 676.2 L537.5 687.5 L542.5 700 L567.5 687.5"/>
<path d="M530 707.5 L580 685"/>
<path d="M580 670 L580 720"/>
<path d="M565 666.2 L570 670 L580 670"/>
<path d="M567.5 673.8 L571.2 672.5 L572.5 676.2 L568.8 677.5 L567.5 673.8"/>
<path d="M455 685 C454.8 687.5 453.8 694.2 453.8 700 C453.8 705.8 454.4 714.2 455 720 C455.6 725.8 457.3 731.7 457.5 735 C457.7 738.3 456.5 739.2 456.2 740"/>
<path d="M458.8 682.5 L463.8 681.2 L466.2 690 L470 700 L463.8 703.8 L460 696.2 L458.8 682.5" stroke-width="3"/>
<path d="M492.5 702.5 L495 697.5 L502.5 695 L508.8 698.8 L510 706.2 L505 711.2 L496.2 710 L492.5 702.5" stroke-width="3"/>
<path d="M504.5 703.8 C504.5 704.5 504.1 705.5 503.5 706 C503 706.6 502 707 501.2 707 C500.5 707 499.5 706.6 499 706 C498.4 705.5 498 704.5 498 703.8 C498 703 498.4 702 499 701.5 C499.5 700.9 500.5 700.5 501.2 700.5 C502 700.5 503 700.9 503.5 701.5 C504.1 702 504.5 703 504.5 703.8Z"/>
<path d="M462.5 712.5 L492.5 722.5 L495 730"/>
<path d="M460 720 L490 732.5"/>
<path d="M512.5 710 L530 710"/>
<path d="M515 692.5 L532.5 688.8"/>
<path d="M460 727.5 L495 745 L510 757.5 L530 752.5"/>
<path d="M530 720 L530 745"/>
<path d="M530 707.5 L531.2 717.5"/>
<path d="M456.2 735 L460 740 L506.2 760 L532.5 762.5"/>
<path d="M516.2 750 L518.8 745 L527.5 743.8 L532.5 747.5 L532.5 753.8 L530 757.5 L520 758.8 L516.2 755 L516.2 750" stroke-width="3"/>
<path d="M515 760 L533.8 758.8 L535 762.5 L516.2 763.8 L515 760"/>
<path d="M543.8 747.5 L581.2 730" stroke-width="4"/>
<path d="M580 720 L595 712.5"/>
<path d="M593.8 707.5 L596.2 702.5 L603.8 702 L607.5 706.2 L607 712.5 L603.8 716.2 L596.2 715.5 L593.8 707.5" stroke-width="3"/>
<path d="M596.2 716.2 L597.5 720 L606.2 720 L607 713.8"/>
<path d="M607.5 720 L610 730 L617.5 733.8 L620 730 L627.5 732.5 L627.5 740 L620 760 L617.5 770 L627.5 777.5"/>
<path d="M473.8 746.2 L478.8 745 L481.2 752.5 L488.8 756.2 L491.2 762.5 L491.2 773.8 L483.8 778.8 L470 777.5 L463.8 772.5 L462.5 760 L468.8 756.2 L473.8 753.8 L473.8 746.2" stroke-width="3.5"/>
<path d="M470 757.5 L471.2 776.2" stroke-width="3"/>
<path d="M483.8 758.8 L485 777.5" stroke-width="3"/>
<path d="M468.8 765 L491.2 766.2" stroke-width="3"/>
<path d="M460 757.5 L452.5 762.5"/>
<path d="M452.5 767.5 L462.5 772.5"/>
<path d="M451.2 772.5 L482.5 786.2 L502.5 777.5 L505 770 L495 765"/>
<path d="M442.5 762.5 C443.7 763.7 447.8 769.7 452.5 772.5 C457.2 775.3 477.5 783.9 482.5 786.2 C487.5 788.6 492.7 789.7 495 792.5 C497.3 795.3 501.9 805 502.5 810 C503.1 815 500.9 829.8 500 835 C499.1 840.2 495.6 852.7 495 855"/>
<path d="M502.5 777.5 C505.4 779.2 515.4 783.8 520 787.5 C524.6 791.2 528.3 796.2 530 800 C531.7 803.8 530 808.3 530 810"/>
<path d="M482.5 786.2 L500 780"/>
<path d="M535 760 C535 761.8 534.8 775 535 777.5 C535.2 780 537.4 782.2 537.5 785 C537.6 787.8 536.6 800 536.2 805 C535.9 810 533.9 827.5 533.8 835 C533.6 842.5 535.4 875.2 535 880 C534.6 884.8 530.5 882.2 530 882.5"/>
<path d="M428.8 772.5 C429.2 770.6 431 769.2 432.5 768.8 C434 768.3 436.2 768.8 437.5 770 C438.8 771.2 439.8 774.2 440 776.2 C440.2 778.3 439.8 781.2 438.8 782.5 C437.7 783.8 435.2 784.2 433.8 783.8 C432.3 783.3 430.8 781.9 430 780 C429.2 778.1 428.3 774.4 428.8 772.5Z" stroke-width="3"/>
<path d="M433.8 772.5 L435.5 780"/>
<path d="M430 792.5 L435 791.2 L437.5 796.2 L433.8 800 L430 797.5"/>
<path d="M440 790 L447.5 787.5 L453.8 795 L450 801.2 L442.5 800 L440 790" stroke-width="3"/>
<path d="M422.5 817.5 L426.2 810 L433.8 810 L441.2 817.5 L435 822.5 L427.5 823.8 L422.5 817.5" stroke-width="3"/>
<path d="M422.5 817.5 L423.8 822.5 L431.2 828.8"/>
<path d="M455 806.2 L462.5 802.5 L470 806.2"/>
<path d="M466.2 805 L472.5 801.2 L481.2 807.5 L478.8 815"/>
<path d="M482.5 807.5 L488.8 803.8 L496.2 810 L493.8 817.5 L486.2 816.2" stroke-width="3"/>
<path d="M442.5 822.5 C442.9 819 447.7 817.1 451.2 816.2 C454.8 815.4 460 815.2 463.8 817.5 C467.5 819.8 471.2 825.4 473.8 830 C476.2 834.6 478.8 841.2 478.8 845 C478.8 848.8 476.7 851.7 473.8 852.5 C470.8 853.3 465.4 852.5 461.2 850 C457.1 847.5 451.9 842.1 448.8 837.5 C445.6 832.9 442.1 826 442.5 822.5Z" stroke-width="3.5"/>
<path d="M438.8 817.5 C441.2 816.2 448.8 810.8 453.8 810 C458.8 809.2 464.2 808.8 468.8 812.5 C473.3 816.2 478.3 826.2 481.2 832.5 C484.2 838.8 487.5 845.4 486.2 850 C485 854.6 478.8 859.2 473.8 860 C468.8 860.8 461.2 857.9 456.2 855 C451.2 852.1 447.9 847.5 443.8 842.5 C439.6 837.5 433.3 827.9 431.2 825"/>
<path d="M448.8 860 L453.8 856.2 L462.5 861.2 L457.5 868.8 L451.2 867.5 L448.8 860" stroke-width="3"/>
<path d="M478.8 848.8 L485 842.5 L493.8 845 L496.2 850 L488.8 856.2 L481.2 855" stroke-width="3"/>
<path d="M471.2 865 L476.2 861.2 L477.5 868.8"/>
<path d="M457.5 810 L463.8 825"/>
<path d="M470 808.8 L478.8 825"/>
<path d="M478.8 867.5 L483.8 875 L491.2 895 L498.8 897.5 L503.8 890 L498.8 875 L488.8 870 L483.8 870" stroke-width="3"/>
<path d="M493.8 880 L503.8 877.5 L518.8 872.5 L521.2 882.5 L511.2 890 L503.8 890"/>
<path d="M511.2 875 L513.8 885"/>
<path d="M518.8 872.5 L518.8 885"/>
<path d="M471.2 880 L478.8 875"/>
<path d="M466.2 895 L481.2 890"/>
<path d="M538.8 812.5 L553.8 810 L555 852.5 L541.2 855 L538.8 812.5" stroke-width="3"/>
<path d="M542.5 816.2 L551.2 815 L551.8 848.8 L543.8 850 L542.5 816.2"/>
<path d="M556.2 795 L563.8 797.5 L563.8 840"/>
<path d="M533.8 802.5 L556.2 795 L545 786.2"/>
<path d="M538.8 777.5 L542.5 772.5 L547.5 773.8 L548.8 780 L545 785 L540 783.8 L538.8 777.5" stroke-width="3"/>
<path d="M546.2 781.2 L550 786.2"/>
<path d="M550 777.5 C552.9 776.7 560.8 775 567.5 772.5 C574.2 770 586.2 764.2 590 762.5"/>
<path d="M563.8 835 L567.5 837.5 L610 820"/>
<path d="M535 882.5 L540 887.5 L552.5 882.5 L560 875"/>
<path d="M550 855 C550 857.3 548.8 868.6 550 875 C551.2 881.4 557.7 903 560 910 C562.3 917 568.5 930 570 935 C571.5 940 572.2 950.5 572.5 952.5"/>
<path d="M558.8 867.5 L568.8 855 L583.8 837.5 L591.2 835 L613.8 837.5 L613.8 851.2 L601.2 870 L583.8 881.2 L566.2 875 L558.8 872.5 L558.8 867.5"/>
<path d="M562.5 866.2 L583.8 842.5 L610 840"/>
<path d="M580 852.5 L588.8 846.2 L601.2 847.5 L598.8 857.5 L588.8 872.5 L581.2 870 L580 852.5" stroke-width="3.5"/>
<path d="M588.8 860 L593.8 850"/>
<path d="M568.8 868.8 L572.5 865 L576.2 868.8 L572.5 872.5 L568.8 868.8"/>
<path d="M603.8 845 L608.8 843.8 L608.8 850"/>
<path d="M606.2 835 L608.8 817.5"/>
<path d="M567.5 645 L600 662.5"/>
<path d="M598.8 668.8 L655 692.5"/>
<path d="M617.5 673.8 L635 682.5"/>
<path d="M620 710 C621.5 711.8 628.1 721.5 632.5 725 C636.9 728.5 654 736.5 657.5 740 C661 743.5 662.8 751.2 662.5 755 C662.2 758.8 657 767.5 655 772.5 C653 777.5 647.6 792.2 645 797.5 C642.4 802.8 634.8 814.6 632.5 817.5 C630.2 820.4 627.6 822.5 625 822.5 C622.4 822.5 611.8 818.1 610 817.5"/>
<path d="M632.5 722.5 L652.5 735 L658.8 725 L657.5 712.5 L662.5 707.5"/>
<path d="M666.2 710 C666.1 711.8 664 721.2 665 725 C666 728.8 674.4 738.7 675 742.5 C675.6 746.3 673.2 750.5 670 757.5 C666.8 764.5 650.1 797.2 647.5 802.5"/>
<path d="M647.5 707.5 L651.2 705 L655 712.5 L652.5 716.2 L647.5 707.5" stroke-width="3"/>
<path d="M647.5 750 L651.2 747.5 L652.5 753.8 L648.8 755 L647.5 750" stroke-width="3"/>
<path d="M607.5 782.5 L610 778.8 L621.2 776.2 L630 777.5 L628.8 792.5 L621.2 802.5"/>
<path d="M607.5 782.5 L608.8 807.5" stroke-width="3.5"/>
<path d="M611.2 786.2 L612.5 806.2"/>
<path d="M615 785 L622.5 782.5 L623.8 797.5 L617.5 805 L615 785"/>
<path d="M618.8 792.5 L620.8 793.5"/>
<path d="M608.8 815 L625 821.2 L635 815"/>
<path d="M433.8 606.2 C434.4 605.4 435.6 602.5 437.5 601.2 C439.4 600 441.7 598.8 445 598.8 C448.3 598.8 455.4 600.8 457.5 601.2"/>
<path d="M433.8 606.2 L433.8 617.5 L440 625 L437.5 640 L437.5 660 L446.2 658.8"/>
<path d="M473.8 607.5 C476 607.9 483.1 608.8 487.5 610 C491.9 611.2 497.9 612.3 500 615 C502.1 617.7 500 624.4 500 626.2"/>
<path d="M442.5 620 L472.5 622.5 L500 632.5 L525 620 L522.5 612.5 L510 618.8 L500 625"/>
<path d="M442.5 622.5 L443.8 632.5 L477.5 636.2 L497.5 638.8 L525 625"/>
<path d="M445 625 L475 628.8"/>
<path d="M446.2 635 L447.5 665 L448.8 725 L453.8 735"/>
<path d="M475 645 L475 662.5"/>
<path d="M517.5 635 L520 645 L482.5 665"/>
<path d="M520 645 L532.5 642.5 L540 650 L510 670"/>
<path d="M510 588.8 C511 590.6 514.8 596 516.2 600 C517.7 604 518.3 610.4 518.8 612.5"/>
<path d="M502.5 610 L510 606.2 L515 605"/>
<path d="M423.8 576.2 L457.5 560"/>
<path d="M495 560 L501.2 573.8"/>
<path d="M420 640 L435 630"/>
<path d="M430 660 L445 655"/>
<path d="M427.5 665 L445 660"/>
<path d="M420 690 L442.5 690"/>
<path d="M420.5 655 L420.5 735"/>
<path d="M535 627.5 L550 610 L561.2 610 L570 622.5 L567.5 640 L563.8 652.5 L558.8 647.5 L561.2 640 L552.5 647.5 L545 655 L538.8 647.5 L550 632.5 L558.8 622.5 L557.5 630"/>
<path d="M420 765 L435 757.5 L452.5 752.5"/>
<path d="M420 785 L427.5 781.2"/>
<path d="M463.8 950 C464 947.1 462.7 937.5 465 932.5 C467.3 927.5 472.5 922.5 477.5 920 C482.5 917.5 492.1 917.9 495 917.5"/>
<path d="M461.2 960 C461.7 962.5 461.9 970.8 463.8 975 C465.6 979.2 468.5 983.8 472.5 985 C476.5 986.2 482.1 985.4 487.5 982.5 C492.9 979.6 500.4 973.8 505 967.5 C509.6 961.2 513.3 948.8 515 945"/>
<path d="M470 927.5 C469.6 931.2 467.1 942.9 467.5 950 C467.9 957.1 469.6 965.8 472.5 970 C475.4 974.2 480.4 976.2 485 975 C489.6 973.8 495.4 968.3 500 962.5 C504.6 956.7 510.4 943.8 512.5 940"/>
<path d="M495 1000 C496.2 997.9 498.8 990.4 502.5 987.5 C506.2 984.6 513.3 982.5 517.5 982.5 C521.7 982.5 525.8 984.2 527.5 987.5 C529.2 990.8 528.8 998.8 527.5 1002.5 C526.2 1006.2 521.2 1008.8 520 1010"/>
<path d="M503.8 1000 C504.4 998.8 505.4 994.2 507.5 992.5 C509.6 990.8 514.2 989.6 516.2 990 C518.3 990.4 519.8 992.1 520 995 C520.2 997.9 519.2 1005 517.5 1007.5 C515.8 1010 511.2 1009.6 510 1010" stroke-width="3"/>
<path d="M420 870 L447.5 882.5"/>
<path d="M420 910 L457.5 892.5 L487.5 912.5 L557.5 957.5"/>
<path d="M477.5 915 C482.5 914.6 500.8 910.4 507.5 912.5 C514.2 914.6 515.8 925 517.5 927.5"/>
<path d="M515 897.5 C515.8 899.6 518.8 906.2 520 910 C521.2 913.8 522.1 918.3 522.5 920"/>
<path d="M550 932.5 L553.8 928.8 L557.5 935 L553.8 940 L550 932.5" stroke-width="3"/>
<path d="M520 950 L530 965 L537.5 980"/>
<path d="M525 955 L532.5 957.5"/>
<path d="M420 930 L425 935 L425 960"/>
<path d="M435 920 C435 925 433.3 943.3 435 950 C436.7 956.7 441.2 956.7 445 960 C448.8 963.3 455.4 968.3 457.5 970"/>
<path d="M557.5 957.5 L560 962.5 L572.5 965"/>
<path d="M556.2 965 L556.2 1010"/>
<path d="M571.2 970 L571.2 1010"/>
<path d="M558.8 972.5 L561.2 985 L558.2 997.5"/>
<path d="M580 957.5 L655 918.8"/>
<path d="M530 1002.5 L545 1007.5"/>
<path d="M420 985 L430 1005 L435 1010"/>
<path d="M617.5 842.5 L666.2 817.5"/>
<path d="M397.5 548.8 L420 535 L430 536.2 L440 533.8"/>
<path d="M442.5 515 L452.5 515 L452.5 518.8 L442.5 518.8 L442.5 515" stroke-width="4"/>
<path d="M443.8 518.8 L443.8 535"/>
<path d="M451.2 518.8 L451.2 535"/>
<path d="M438.8 536.2 L440 552.5 L443.8 556.2 L453.8 555.5 L456.2 550 L456.2 537.5 L448.8 533.8 L438.8 536.2"/>
<path d="M441.2 542.5 L456.2 543.8"/>
<path d="M456.2 533.8 L465 536.2 L475 545 L478 543.8"/>
<path d="M422.5 546.2 L430 552.5 L438.8 553.8"/>
<path d="M456.2 555 L468.8 550 L476.2 543.8"/>
<path d="M392.5 575 L422.5 546.2"/>
<path d="M382.5 561.2 L368.8 568.8 L351.2 575 L346.2 580 L336.2 585 L331.2 592.5"/>
<path d="M346.2 580 L343.8 587.5 L333.8 595 L323.8 600"/>
<path d="M345 610 L378.8 588.8"/>
<path d="M372.5 607.5 L408.8 586.2"/>
<path d="M343.8 622.5 L353.8 616.2"/>
<path d="M330 588.8 L327.5 585 L320 583 L305 585 L300 590 L300 600 L305 602.5 L297.5 610 L290 615 L282.5 617.5 L257.5 635 L248.8 638.8"/>
<path d="M308.8 591.2 C309.8 589.8 313.5 588.8 316.2 588.8 C319 588.8 323.3 589.8 325 591.2 C326.7 592.7 327.3 596 326.2 597.5 C325.2 599 321.5 600 318.8 600 C316 600 311.7 599 310 597.5 C308.3 596 307.7 592.7 308.8 591.2Z"/>
<path d="M308.8 595 L308.8 610" stroke-width="3.4"/>
<path d="M316.2 595 L317 608.8" stroke-width="3.4"/>
<path d="M303.8 612.5 L305 627.5 L312.5 631.2 L321.2 630 L322 612.5 L312.5 610 L303.8 612.5" stroke-width="3"/>
<path d="M305 620 L321.2 618.8"/>
<path d="M291.2 620 L303.8 613.8"/>
<path d="M291.2 620 L292.5 625 L302.5 631.2 L322.5 631.2 L330 626.2"/>
<path d="M330 597.5 L316.2 610"/>
<path d="M257.5 635 L267.5 640 L277.5 652.5"/>
<path d="M235 637.5 C232.5 638.3 224.6 640.4 220 642.5 C215.4 644.6 210.4 647.1 207.5 650 C204.6 652.9 203.1 656.7 202.5 660 C201.9 663.3 202.1 667.5 203.8 670 C205.4 672.5 208.5 674.4 212.5 675 C216.5 675.6 222.5 674.6 227.5 673.8 C232.5 672.9 237.1 671.9 242.5 670 C247.9 668.1 257.1 663.8 260 662.5"/>
<path d="M217.5 652.5 C219.6 651.7 225 649.2 230 647.5 C235 645.8 244.6 643.3 247.5 642.5"/>
<path d="M218.8 662.5 C221.5 661.9 229.4 660.4 235 658.8 C240.6 657.1 249.6 653.5 252.5 652.5"/>
<path d="M212.5 668.8 C215.4 668.3 224.2 667.5 230 666.2 C235.8 665 244.6 662.1 247.5 661.2"/>
<path d="M192.5 665 C193.3 666.5 194.6 671.5 197.5 673.8 C200.4 676 205 677.7 210 678.8 C215 679.8 224.6 679.8 227.5 680"/>
<path d="M248.8 638.8 L252.5 633.8 L265 635 L275 642.5 L280 652.5 L278.8 662.5 L270 660 L262.5 655 L257.5 652.5 L248.8 638.8" stroke-width="3"/>
<path d="M260 662.5 L272.5 695 L282.5 703.8 L280 692.5 L270 670"/>
<path d="M262.5 662.5 L263.8 670"/>
<path d="M180 670 L192.5 663.8"/>
<path d="M195 705 L230 687.5"/>
<path d="M290 655 L330 633.8"/>
<path d="M180 692.5 L187.5 693.8 L191.2 700 L185 707.5 L180 710"/>
<path d="M226.2 720 C226.9 719.4 227.7 717.3 230 716.2 C232.3 715.2 237.1 714 240 713.8 C242.9 713.5 246.2 714.8 247.5 715"/>
<path d="M226.2 720 L228.8 735 L233.8 741.2 L232.5 755 L233.8 770"/>
<path d="M267.5 718.8 L282.5 721.2 L285 736.2"/>
<path d="M236.2 742.5 L265 741.2 L285 747.5 L305 737.5"/>
<path d="M237.5 747.5 L265 746.2 L287.5 752.5 L310 742.5"/>
<path d="M238.8 751.2 L285 757.5 L308.8 746.2"/>
<path d="M310 733.8 L311.2 727.5"/>
<path d="M290 736.2 L302.5 730"/>
<path d="M292.5 740 L305 733.8"/>
<path d="M180 775 L217.5 782.5 L238.8 772.5"/>
<path d="M180 781.2 L217.5 788.8 L236.2 780"/>
<path d="M180 787.5 L212.5 793.8"/>
<path d="M213.8 760 L217.5 781.2"/>
<path d="M200 757.5 L207.5 758.8"/>
<path d="M218.8 751.2 L227.5 747.5"/>
<path d="M240 752.5 L238.8 802.5 L237.5 825"/>
<path d="M263.8 755 L262.5 802.5"/>
<path d="M268.8 757.5 L267.5 797.5"/>
<path d="M236.2 800 L255 802.5 L262.5 810 L263.8 822.5"/>
<path d="M198.8 795 L197.5 840"/>
<path d="M203.8 800 L202.5 830"/>
<path d="M205 805 L217.5 807.5 L221.2 801.2"/>
<path d="M297.5 687.5 C297.9 686.5 297.9 682.9 300 681.2 C302.1 679.6 306.7 678.1 310 677.5 C313.3 676.9 318.3 677.5 320 677.5"/>
<path d="M297.5 687.5 L298.8 697.5 L305 702.5 L303.8 715 L302.5 730 L310 728.8"/>
<path d="M338.8 682.5 L355 676.2"/>
<path d="M352.5 682.5 L352.5 697.5"/>
<path d="M307.5 702.5 L330 700 L345 705 L372.5 695 L377.5 690"/>
<path d="M306.2 706.2 L330 705 L347.5 711.2 L375 698.8"/>
<path d="M307.5 711.2 L340 713.8 L350 716.2 L377.5 703.8"/>
<path d="M316.2 713.8 L345 718.8"/>
<path d="M310 715 L311.2 742.5 L302.5 750 L290 755"/>
<path d="M365 715 L377.5 707.5"/>
<path d="M367.5 720 L377.5 713.8"/>
<path d="M333.8 725 L335 757.5 L337.5 762.5"/>
<path d="M340 727.5 L340 755"/>
<path d="M352.5 730 L352.5 822.5"/>
<path d="M360 730 L360 820"/>
<path d="M355 727.5 L375 727.5"/>
<path d="M373.8 700 L375 740 L376.2 825"/>
<path d="M366.2 650 C366.9 649 367.3 645.2 370 643.8 C372.7 642.3 377.9 641.5 382.5 641.2 C387.1 641 395 642.3 397.5 642.5"/>
<path d="M366.2 650 L367.5 660 L373.8 667.5 L372.5 680 L371.2 697.5 L365 702.5"/>
<path d="M408.8 642.5 L417.5 643.8 L420 660"/>
<path d="M377.5 662.5 L400 665 L417.5 670 L442.5 657.5 L445 652.5"/>
<path d="M376.2 666.2 L400 670 L418.8 676.2 L443.8 662.5"/>
<path d="M377.5 671.2 L420 681.2 L442.5 668.8"/>
<path d="M380 675 L378.8 715 L377.5 730"/>
<path d="M402.5 687.5 L402.5 720"/>
<path d="M407.5 687.5 L407.5 717.5"/>
<path d="M282.5 772.5 C283 766.4 286 762.9 287.5 761.2 C289 759.6 295 756.6 297.5 756.2 C300 755.9 310.1 756.6 312.5 757.5 C314.9 758.4 320 763 321.2 765 C322.5 767 324.6 770 325 777.5 C325.4 785 325.5 832.8 325 840 C324.5 847.2 321.5 848.4 320 850 C318.5 851.6 311.5 855.8 310 856.2 C308.5 856.8 307.2 857.1 305 855 C302.8 852.9 289.8 838.2 287.5 835 C285.2 831.8 283 828.8 282.5 822.5 C282 816.2 282 778.6 282.5 772.5Z"/>
<path d="M287.5 785 C287.9 781.5 289.8 779 291.2 777.5 C292.8 776 300.4 770.6 302.5 770 C304.6 769.4 311.1 770.2 312.5 771.2 C313.9 772.2 316 775.9 316.2 780 C316.5 784.1 315.9 808 315 812.5 C314.1 817 309.2 823.5 307.5 825 C305.8 826.5 299.2 827.8 297.5 827.5 C295.8 827.2 291 824 290 822.5 C289 821 287.8 816.2 287.5 812.5 C287.2 808.8 287.1 788.5 287.5 785Z"/>
<path d="M293.2 771.2 C293.2 772 292.8 773 292.3 773.5 C291.8 774.1 290.8 774.5 290 774.5 C289.2 774.5 288.2 774.1 287.7 773.5 C287.2 773 286.8 772 286.8 771.2 C286.8 770.5 287.2 769.5 287.7 769 C288.2 768.4 289.2 768 290 768 C290.8 768 291.8 768.4 292.3 769 C292.8 769.5 293.2 770.5 293.2 771.2Z"/>
<path d="M310 850 L315 845 L317.5 847.5 L312.5 852.5 L310 850"/>
<path d="M291.2 797.5 L305 787.5 L315 785"/>
<path d="M290 812.5 L302.5 805 L300 825"/>
<path d="M291.2 817.5 L298.8 815"/>
<path d="M302.5 805 L315 812.5"/>
<path d="M325 772.5 L330 773.8 L337.5 782.5"/>
<path d="M325 810 L335 805 L337.5 800"/>
<path d="M326.2 812.5 L328.8 815"/>
<path d="M337.5 827.5 L377.5 826.2 L380 832.5 L355 840 L335 840"/>
<path d="M327.5 832.5 L337.5 827.5"/>
<path d="M351.2 841.2 L351.2 846.2 L360 846.2 L360 840"/>
<path d="M377.5 725 C380 725.2 387.9 724.6 392.5 726.2 C397.1 727.9 401.7 731.5 405 735 C408.3 738.5 410.8 743.8 412.5 747.5 C414.2 751.2 416.7 754.8 415 757.5 C413.3 760.2 406.2 762.5 402.5 763.8 C398.8 765 394.2 764.8 392.5 765"/>
<path d="M380 737.5 L387.5 752.5 L380 757.5"/>
<path d="M391.2 737.5 C392.7 737.3 397.3 735 400 736.2 C402.7 737.5 406.2 743.5 407.5 745"/>
<path d="M392.5 746.2 L400 747.5 L397.5 760 L387.5 761.2 L383.8 755 L392.5 746.2" stroke-width="3"/>
<path d="M392.5 770 L402.5 768.8 L407.5 777.5 L406.2 787.5 L392.5 790 L381.2 780 L392.5 770"/>
<path d="M377.5 770 L390 772.5"/>
<path d="M380 807.5 L392.5 800"/>
<path d="M388.8 865 C389 858.3 389.4 834.2 390 825 C390.6 815.8 390.4 814.6 392.5 810 C394.6 805.4 398.8 800.4 402.5 797.5 C406.2 794.6 411.2 793.8 415 792.5 C418.8 791.2 423.3 790.4 425 790"/>
<path d="M402.5 797.5 C402.9 799.6 402.9 805.4 405 810 C407.1 814.6 412.5 820.4 415 825 C417.5 829.6 419.6 833.3 420 837.5 C420.4 841.7 420.8 846.7 417.5 850 C414.2 853.3 404.6 855.4 400 857.5 C395.4 859.6 391.7 861.7 390 862.5"/>
<path d="M400 836.2 C400.4 834.4 402.9 831.9 405 832.5 C407.1 833.1 411 837.3 412.5 840 C414 842.7 414.4 847.1 413.8 848.8 C413.1 850.4 410.6 850.8 408.8 850 C406.9 849.2 404 846 402.5 843.8 C401 841.5 399.6 838.1 400 836.2Z"/>
<path d="M403.8 800 L407.5 797.5 L408.8 803.8 L405 806.2"/>
<path d="M180 832.5 L197.5 830 L217.5 832.5 L240 830"/>
<path d="M180 850 L192.5 855 L200 865"/>
<path d="M212.5 840 L222.5 836.2 L232.5 840 L262.5 837.5 L275 840"/>
<path d="M212.5 840 C212.3 842.5 210.8 848.8 211.2 855 C211.7 861.2 213.5 872.9 215 877.5 C216.5 882.1 219.2 881.7 220 882.5"/>
<path d="M220 842.5 C219.8 844.6 218.3 849.6 218.8 855 C219.2 860.4 221.9 871.7 222.5 875"/>
<path d="M226.2 847.5 C226 850.4 224.4 859.6 225 865 C225.6 870.4 227.9 876.2 230 880 C232.1 883.8 236.2 886.2 237.5 887.5"/>
<path d="M252.5 825 L257.5 822.5 L261.2 827.5 L258.8 835 L253.8 836.2 L251.2 831.2 L252.5 825" stroke-width="3"/>
<path d="M256.2 807.5 L262.5 827.5 L285 847.5 L297.5 860 L310 865"/>
<path d="M232.5 850 L240 846.2 L245 850"/>
<path d="M231.2 852.5 C229.8 853.1 229.6 855.8 230 857.5 C230.4 859.2 232.3 862.1 233.8 862.5 C235.2 862.9 237.9 861.5 238.8 860 C239.6 858.5 240 855 238.8 853.8 C237.5 852.5 232.7 851.9 231.2 852.5Z"/>
<path d="M240 855 C241.2 854 242.9 850 247.5 848.8 C252.1 847.5 262.5 846.5 267.5 847.5 C272.5 848.5 275 852.1 277.5 855 C280 857.9 280 861.7 282.5 865 C285 868.3 288.8 872.9 292.5 875 C296.2 877.1 302.9 877.1 305 877.5"/>
<path d="M237.5 857.5 C237.5 860.8 236.2 872.1 237.5 877.5 C238.8 882.9 241.7 884.6 245 890 C248.3 895.4 253.3 906.2 257.5 910 C261.7 913.8 267.9 912.1 270 912.5"/>
<path d="M280 845 C282.1 842.1 289.2 841.7 292.5 842.5 C295.8 843.3 298.3 846.7 300 850 C301.7 853.3 302.9 858.8 302.5 862.5 C302.1 866.2 300.4 871.2 297.5 872.5 C294.6 873.8 287.9 872.1 285 870 C282.1 867.9 280.8 864.2 280 860 C279.2 855.8 277.9 847.9 280 845Z"/>
<path d="M302.5 850 C303.8 852.5 309.2 860 310 865 C310.8 870 307.9 877.5 307.5 880"/>
<path d="M267.5 837.5 L280 842.5"/>
<path d="M302.5 850 L318 855"/>
<path d="M282.5 875 L300 882.5 L320 880 L340 865 L345 872.5 L342.5 885"/>
<path d="M310 865 L342.5 855 L347.5 870"/>
<path d="M270 912.5 C272.1 910 278.8 900.6 282.5 897.5 C286.2 894.4 288.3 894.2 292.5 893.8 C296.7 893.3 303.3 893.1 307.5 895 C311.7 896.9 313.8 903.3 317.5 905 C321.2 906.7 326.2 905.4 330 905 C333.8 904.6 338.3 902.9 340 902.5"/>
<path d="M252.5 917.5 C253.8 915 256.7 912.9 260 912.5 C263.3 912.1 270 912.5 272.5 915 C275 917.5 275.4 923.8 275 927.5 C274.6 931.2 272.5 935.8 270 937.5 C267.5 939.2 262.9 939.2 260 937.5 C257.1 935.8 253.8 930.8 252.5 927.5 C251.2 924.2 251.2 920 252.5 917.5Z"/>
<path d="M263.8 930 L266.2 937.5 L270 932.5"/>
<path d="M272.5 915 L285 937.5 L295 940"/>
<path d="M295 932.5 L307.5 927.5 L317.5 930"/>
<path d="M335 892.5 C337.9 892.1 348.3 888.8 352.5 890 C356.7 891.2 357.9 895.8 360 900 C362.1 904.2 365 909.6 365 915 C365 920.4 362.1 928.8 360 932.5 C357.9 936.2 353.8 936.7 352.5 937.5"/>
<path d="M332.5 895 C333.3 898.3 336.2 907.9 337.5 915 C338.8 922.1 339.6 933.8 340 937.5"/>
<path d="M355 892.5 C356.2 895.4 361 904.6 362.5 910 C364 915.4 363.5 922.5 363.8 925" stroke-width="4"/>
<path d="M320 940 L335 935 L352.5 937.5"/>
<path d="M180 870 L190 867.5 L195 862.5"/>
<path d="M180 880 L202.5 878.8"/>
<path d="M185 887.5 L195 900 L190 915 L180 912.5"/>
<path d="M205 895 L215 890 L237.5 895"/>
<path d="M207.5 902.5 L235 890"/>
<path d="M205 912.5 L220 910 L230 902.5 L240 895"/>
<path d="M180 925 L202.5 920 L237.5 910 L240 915 L210 930 L180 935"/>
<path d="M205 880 L213.8 875"/>
<path d="M365 850 L366.2 915"/>
<path d="M381.2 860 L380 910 L397.5 915"/>
<path d="M382.5 900 L415 880 L420 885 L420 900"/>
<path d="M367.5 920 L415 922.5 L413.8 940"/>
<path d="M367.5 920 L366.2 940"/>
<path d="M377.5 930 L377.5 940"/>
<path d="M392.5 927.5 L400 925 L402.5 935"/>
<path d="M392.5 937.5 L397.5 940"/>
<path d="M327.5 810 L340 822.5"/>
<path d="M33.8 980 C32.5 982.1 27.9 987.9 26.2 992.5 C24.6 997.1 24.4 1002.9 23.8 1007.5 C23.1 1012.1 22.7 1017.9 22.5 1020"/>
<path d="M17.5 1022.5 L21.2 1020 L28.8 1021.2 L30 1027.5 L25 1031.2 L18.8 1028.8 L17.5 1022.5" stroke-width="3"/>
<path d="M30 1012.5 C31.5 1011.7 35.4 1007.7 38.8 1007.5 C42.1 1007.3 46.2 1010 50 1011.2 C53.8 1012.5 59 1013.1 61.2 1015 C63.5 1016.9 62.7 1020.4 63.8 1022.5 C64.8 1024.6 66.9 1026.7 67.5 1027.5"/>
<path d="M32.5 1030 C34.6 1028.8 40.4 1024.2 45 1022.5 C49.6 1020.8 57.5 1020.4 60 1020"/>
<path d="M63.8 1026.2 C65.2 1026 69.4 1025 72.5 1025 C75.6 1025 80.4 1025 82.5 1026.2 C84.6 1027.5 84.6 1031.5 85 1032.5"/>
<path d="M35 1035 L43.8 1036.2 L47.5 1050 L45 1057.5"/>
<path d="M37.5 1040 L41.2 1053.8 L50 1060"/>
<path d="M53.8 1040 L60 1037.5 L65 1041.2 L64.5 1048.8 L58.8 1051.2 L53.8 1047.5 L53.8 1040" stroke-width="3"/>
<path d="M52.5 1050 L53.8 1060 L62.5 1067.5"/>
<path d="M25 1040 L31.2 1045 L32.5 1050"/>
<path d="M5 1065 L10 1061.2 L17.5 1063.8 L20 1070 L15 1073.8 L8.8 1072.5 L5 1065" stroke-width="3"/>
<path d="M18.8 1060 L23.8 1057.5 L27.5 1062.5"/>
<path d="M1.2 1095 L6.2 1087.5 L15 1085 L17.5 1092.5 L12.5 1098.8 L3.8 1100 L1.2 1095" stroke-width="3"/>
<path d="M15 1077.5 L27.5 1072.5 L40 1078.8 L50 1082.5 L42.5 1090 L27.5 1096.2 L17.5 1092.5"/>
<path d="M27.5 1100 L40 1092.5 L50 1083.8"/>
<path d="M27.5 1085 L41.2 1080"/>
<path d="M30 1077.5 L37.5 1075"/>
<path d="M73.8 1062.5 C73.8 1058.8 75.2 1055.6 77.5 1053.8 C79.8 1051.9 84.4 1050.6 87.5 1051.2 C90.6 1051.9 94.2 1054.8 96.2 1057.5 C98.3 1060.2 100 1064 100 1067.5 C100 1071 98.5 1076.2 96.2 1078.8 C94 1081.2 89.4 1082.9 86.2 1082.5 C83.1 1082.1 79.6 1079.6 77.5 1076.2 C75.4 1072.9 73.8 1066.2 73.8 1062.5Z" stroke-width="3.2"/>
<path d="M82.5 1035 C85.4 1035.8 95.4 1037.5 100 1040 C104.6 1042.5 108.3 1048.3 110 1050"/>
<path d="M75 1035 C77.1 1035.2 83.3 1035 87.5 1036.2 C91.7 1037.5 96.7 1039.4 100 1042.5 C103.3 1045.6 105.8 1051.2 107.5 1055 C109.2 1058.8 109.6 1063.3 110 1065"/>
<path d="M101.2 1070 L107.5 1067.5 L110 1077.5 L102.5 1082.5"/>
<path d="M65 1067.5 L67.5 1077.5 L72.5 1095 L77.5 1100"/>
<path d="M82.5 1085 L83.8 1105"/>
<path d="M87.5 1087.5 L88 1106.2"/>
<path d="M71.2 1075 L72.5 1105"/>
<path d="M92.5 1107.5 L98.8 1095 L111.2 1098.8 L103.8 1110 L95 1110" stroke-width="3"/>
<path d="M92.5 1097.5 L93.8 1107.5"/>
<path d="M117.5 1092.5 L122.5 1090 L127.5 1095 L126.2 1103.8 L120 1103.8 L117.5 1092.5" stroke-width="3"/>
<path d="M110 1075 C111.7 1074.4 116.7 1071.7 120 1071.2 C123.3 1070.8 126.7 1071 130 1072.5 C133.3 1074 137.5 1076.7 140 1080 C142.5 1083.3 144.4 1089 145 1092.5 C145.6 1096 144 1099.8 143.8 1101.2"/>
<path d="M120 1080 L125 1077.5"/>
<path d="M112.5 1125 C112.9 1126 112.9 1130.4 115 1131.2 C117.1 1132.1 122.5 1131.5 125 1130 C127.5 1128.5 129.4 1124.8 130 1122.5 C130.6 1120.2 129 1117.3 128.8 1116.2"/>
<path d="M110 1110 L117.5 1115"/>
<path d="M143.8 1040 C143.5 1042.5 142.3 1050.8 142.5 1055 C142.7 1059.2 143.8 1061.7 145 1065 C146.2 1068.3 149.2 1073.3 150 1075"/>
<path d="M155 1052.5 C154.8 1050.4 152.9 1043.3 153.8 1040 C154.6 1036.7 157.7 1034.2 160 1032.5 C162.3 1030.8 164.2 1029.2 167.5 1030 C170.8 1030.8 176.2 1034.6 180 1037.5 C183.8 1040.4 188.3 1045.8 190 1047.5"/>
<path d="M156.2 1057.5 C156.9 1059.2 158.1 1063.8 160 1067.5 C161.9 1071.2 166.2 1077.9 167.5 1080"/>
<path d="M172.5 1057.5 C172.9 1059.6 172.9 1066.2 175 1070 C177.1 1073.8 181.2 1077.9 185 1080 C188.8 1082.1 195.4 1082.1 197.5 1082.5"/>
<path d="M175 1087.5 C176.7 1089.2 181.2 1095 185 1097.5 C188.8 1100 195.4 1101.7 197.5 1102.5"/>
<path d="M200 1067.5 C200.6 1069.6 203.3 1075.4 203.8 1080 C204.2 1084.6 203.5 1090.4 202.5 1095 C201.5 1099.6 198.3 1105.4 197.5 1107.5"/>
<path d="M207.5 1045 C208.8 1047.1 212.9 1052.5 215 1057.5 C217.1 1062.5 218.8 1070.4 220 1075 C221.2 1079.6 222.1 1083.3 222.5 1085"/>
<path d="M212.5 1085 L217.5 1083.8 L220 1091.2 L216.2 1090"/>
<path d="M232.5 1080 C232.9 1082.5 235 1090.4 235 1095 C235 1099.6 234.2 1104.2 232.5 1107.5 C230.8 1110.8 226.2 1113.8 225 1115"/>
<path d="M240 1065 C240.6 1067.5 243.3 1074.6 243.8 1080 C244.2 1085.4 243.8 1092.5 242.5 1097.5 C241.2 1102.5 237.3 1107.9 236.2 1110"/>
<path d="M222.5 1077.5 L232.5 1076.2"/>
<path d="M205 1115 L215 1106.2"/>
<path d="M141.2 1020 L146.2 1018.8 L150 1025"/>
<path d="M167.5 1010 L171.2 1011.2"/>
<path d="M175 1116.2 L178.8 1115 L181.2 1121.2 L178.8 1123.8"/>
<path d="M140 960 L142.5 967.5 L162.5 985 L175 997.5 L185 1020 L197.5 1045 L207.5 1060"/>
<path d="M155 975 L172.5 995 L187.5 1017.5"/>
<path d="M175 992.5 L195 985 L220 982.5"/>
<path d="M177.5 997.5 L190 1005 L215 1000"/>
<path d="M192.5 987.5 L212.5 1007.5"/>
<path d="M225 1032.5 C226.7 1031.2 230.8 1027.9 235 1025 C239.2 1022.1 244.2 1017.9 250 1015 C255.8 1012.1 264.2 1009.2 270 1007.5 C275.8 1005.8 282.5 1005.4 285 1005"/>
<path d="M232.5 1040 C233.8 1038.8 236.7 1035 240 1032.5 C243.3 1030 246.7 1026.7 252.5 1025 C258.3 1023.3 268.8 1024.2 275 1022.5 C281.2 1020.8 286.2 1017.1 290 1015 C293.8 1012.9 296.7 1010.8 298 1010"/>
<path d="M225 1032.5 C226.2 1035 230 1040.8 232.5 1047.5 C235 1054.2 237.5 1067.1 240 1072.5 C242.5 1077.9 243.3 1078.3 247.5 1080 C251.7 1081.7 258.8 1082.5 265 1082.5 C271.2 1082.5 279.5 1081.7 285 1080 C290.5 1078.3 295.8 1073.8 298 1072.5"/>
<path d="M240 1032.5 C242.5 1030.8 249.6 1027.5 252.5 1027.5 C255.4 1027.5 257.1 1030.4 257.5 1032.5 C257.9 1034.6 257.5 1038.3 255 1040 C252.5 1041.7 245.4 1042.9 242.5 1042.5 C239.6 1042.1 237.9 1039.2 237.5 1037.5 C237.1 1035.8 237.5 1034.2 240 1032.5Z" stroke-width="3"/>
<path d="M249 1036.2 C249 1036.9 248.7 1037.7 248.2 1038.2 C247.7 1038.7 246.9 1039 246.2 1039 C245.6 1039 244.8 1038.7 244.3 1038.2 C243.8 1037.7 243.5 1036.9 243.5 1036.2 C243.5 1035.6 243.8 1034.8 244.3 1034.3 C244.8 1033.8 245.6 1033.5 246.2 1033.5 C246.9 1033.5 247.7 1033.8 248.2 1034.3 C248.7 1034.8 249 1035.6 249 1036.2Z"/>
<path d="M255 1020 L257.5 1030"/>
</g>
</svg>
</body></html>
